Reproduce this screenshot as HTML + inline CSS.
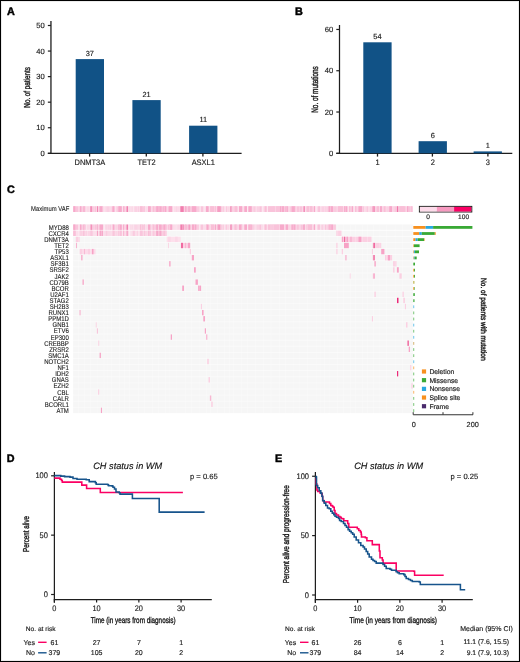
<!DOCTYPE html>
<html><head><meta charset="utf-8"><style>
html,body{margin:0;padding:0;background:#fff;}
#f{position:relative;width:520px;height:662px;overflow:hidden;background:#fff;}
#f svg{position:absolute;left:0;top:0;will-change:transform;filter:blur(0.3px);}
#bd{position:absolute;left:0;top:0;width:518px;height:660px;border:1px solid #000;box-sizing:content-box;box-shadow:inset 0 0 0 1px #ececec;}
text{font-family:"Liberation Sans", sans-serif;text-rendering:geometricPrecision;}
</style></head><body><div id="f">
<svg width="520" height="662" viewBox="0 0 520 662" font-family='"Liberation Sans", sans-serif'>
<text x="6.9" y="14.83" font-size="10.8" font-weight="bold" fill="#000" stroke="#000" stroke-width="0.45">A</text>
<text x="295" y="14.63" font-size="10.8" font-weight="bold" fill="#000" stroke="#000" stroke-width="0.45">B</text>
<text x="6.9" y="193.23" font-size="10.8" font-weight="bold" fill="#000" stroke="#000" stroke-width="0.45">C</text>
<text x="6.8" y="462.43" font-size="10.8" font-weight="bold" fill="#000" stroke="#000" stroke-width="0.45">D</text>
<text x="274.9" y="462.43" font-size="10.8" font-weight="bold" fill="#000" stroke="#000" stroke-width="0.45">E</text>
<line x1="50.95" y1="21.00" x2="50.95" y2="153.30" stroke="#1e1e1e" stroke-width="1.3"/>
<line x1="47.85" y1="153.30" x2="241.60" y2="153.30" stroke="#1e1e1e" stroke-width="1.25"/>
<line x1="47.85" y1="153.30" x2="50.95" y2="153.30" stroke="#1e1e1e" stroke-width="1.2"/>
<text x="44.80" y="155.91" font-size="7.60" text-anchor="end" fill="#1a1a1a" stroke="#1a1a1a" stroke-width="0.15" >0</text>
<line x1="47.85" y1="127.74" x2="50.95" y2="127.74" stroke="#1e1e1e" stroke-width="1.2"/>
<text x="44.80" y="130.35" font-size="7.60" text-anchor="end" fill="#1a1a1a" stroke="#1a1a1a" stroke-width="0.15" >10</text>
<line x1="47.85" y1="102.18" x2="50.95" y2="102.18" stroke="#1e1e1e" stroke-width="1.2"/>
<text x="44.80" y="104.79" font-size="7.60" text-anchor="end" fill="#1a1a1a" stroke="#1a1a1a" stroke-width="0.15" >20</text>
<line x1="47.85" y1="76.62" x2="50.95" y2="76.62" stroke="#1e1e1e" stroke-width="1.2"/>
<text x="44.80" y="79.23" font-size="7.60" text-anchor="end" fill="#1a1a1a" stroke="#1a1a1a" stroke-width="0.15" >30</text>
<line x1="47.85" y1="51.06" x2="50.95" y2="51.06" stroke="#1e1e1e" stroke-width="1.2"/>
<text x="44.80" y="53.67" font-size="7.60" text-anchor="end" fill="#1a1a1a" stroke="#1a1a1a" stroke-width="0.15" >40</text>
<line x1="47.85" y1="25.50" x2="50.95" y2="25.50" stroke="#1e1e1e" stroke-width="1.2"/>
<text x="44.80" y="28.11" font-size="7.60" text-anchor="end" fill="#1a1a1a" stroke="#1a1a1a" stroke-width="0.15" >50</text>
<g transform="translate(26.80,87.40) rotate(-90)"><text x="0" y="3.01" font-size="8.6" text-anchor="middle" fill="#1a1a1a" stroke="#1a1a1a" stroke-width="0.4" textLength="40.5" lengthAdjust="spacingAndGlyphs">No. of patients</text></g>
<rect x="75.70" y="59.10" width="28.30" height="94.20" fill="#115286" />
<line x1="89.60" y1="153.30" x2="89.60" y2="156.60" stroke="#1e1e1e" stroke-width="1.3"/>
<g transform="translate(89.85,165.22) scale(0.9259,1)"><text x="0" y="0" font-size="8.05" text-anchor="middle" fill="#1a1a1a" stroke="#1a1a1a" stroke-width="0.15" >DNMT3A</text></g>
<text x="89.85" y="55.79" font-size="7.40" text-anchor="middle" fill="#1a1a1a" stroke="#1a1a1a" stroke-width="0.15" >37</text>
<rect x="132.40" y="100.10" width="28.30" height="53.20" fill="#115286" />
<line x1="146.30" y1="153.30" x2="146.30" y2="156.60" stroke="#1e1e1e" stroke-width="1.3"/>
<g transform="translate(146.55,165.22) scale(0.9259,1)"><text x="0" y="0" font-size="8.05" text-anchor="middle" fill="#1a1a1a" stroke="#1a1a1a" stroke-width="0.15" >TET2</text></g>
<text x="146.55" y="96.79" font-size="7.40" text-anchor="middle" fill="#1a1a1a" stroke="#1a1a1a" stroke-width="0.15" >21</text>
<rect x="189.10" y="125.70" width="28.30" height="27.60" fill="#115286" />
<line x1="202.90" y1="153.30" x2="202.90" y2="156.60" stroke="#1e1e1e" stroke-width="1.3"/>
<g transform="translate(203.25,165.22) scale(0.9259,1)"><text x="0" y="0" font-size="8.05" text-anchor="middle" fill="#1a1a1a" stroke="#1a1a1a" stroke-width="0.15" >ASXL1</text></g>
<text x="203.25" y="122.39" font-size="7.40" text-anchor="middle" fill="#1a1a1a" stroke="#1a1a1a" stroke-width="0.15" >11</text>
<line x1="339.50" y1="25.00" x2="339.50" y2="153.30" stroke="#1e1e1e" stroke-width="1.25"/>
<line x1="336.30" y1="153.30" x2="512.30" y2="153.30" stroke="#1e1e1e" stroke-width="1.25"/>
<line x1="336.30" y1="153.30" x2="339.50" y2="153.30" stroke="#1e1e1e" stroke-width="1.2"/>
<text x="333.20" y="155.91" font-size="7.60" text-anchor="end" fill="#1a1a1a" stroke="#1a1a1a" stroke-width="0.15" >0</text>
<line x1="336.30" y1="112.02" x2="339.50" y2="112.02" stroke="#1e1e1e" stroke-width="1.2"/>
<text x="333.20" y="114.63" font-size="7.60" text-anchor="end" fill="#1a1a1a" stroke="#1a1a1a" stroke-width="0.15" >20</text>
<line x1="336.30" y1="70.74" x2="339.50" y2="70.74" stroke="#1e1e1e" stroke-width="1.2"/>
<text x="333.20" y="73.35" font-size="7.60" text-anchor="end" fill="#1a1a1a" stroke="#1a1a1a" stroke-width="0.15" >40</text>
<line x1="336.30" y1="29.46" x2="339.50" y2="29.46" stroke="#1e1e1e" stroke-width="1.2"/>
<text x="333.20" y="32.07" font-size="7.60" text-anchor="end" fill="#1a1a1a" stroke="#1a1a1a" stroke-width="0.15" >60</text>
<g transform="translate(315.00,89.50) rotate(-90)"><text x="0" y="3.29" font-size="9.4" text-anchor="middle" fill="#1a1a1a" stroke="#1a1a1a" stroke-width="0.4" textLength="46.6" lengthAdjust="spacingAndGlyphs">No. of mutations</text></g>
<rect x="363.30" y="42.30" width="28.30" height="111.00" fill="#115286" />
<line x1="377.50" y1="153.30" x2="377.50" y2="156.60" stroke="#1e1e1e" stroke-width="1.3"/>
<g transform="translate(377.45,165.42) scale(0.9259,1)"><text x="0" y="0" font-size="8.05" text-anchor="middle" fill="#1a1a1a" stroke="#1a1a1a" stroke-width="0.15" >1</text></g>
<text x="377.45" y="39.09" font-size="7.40" text-anchor="middle" fill="#1a1a1a" stroke="#1a1a1a" stroke-width="0.15" >54</text>
<rect x="418.60" y="141.20" width="28.30" height="12.10" fill="#115286" />
<line x1="432.40" y1="153.30" x2="432.40" y2="156.60" stroke="#1e1e1e" stroke-width="1.3"/>
<g transform="translate(432.75,165.42) scale(0.9259,1)"><text x="0" y="0" font-size="8.05" text-anchor="middle" fill="#1a1a1a" stroke="#1a1a1a" stroke-width="0.15" >2</text></g>
<text x="432.75" y="137.99" font-size="7.40" text-anchor="middle" fill="#1a1a1a" stroke="#1a1a1a" stroke-width="0.15" >6</text>
<rect x="473.60" y="151.40" width="28.30" height="1.90" fill="#115286" />
<line x1="487.90" y1="153.30" x2="487.90" y2="156.60" stroke="#1e1e1e" stroke-width="1.3"/>
<g transform="translate(487.75,165.42) scale(0.9259,1)"><text x="0" y="0" font-size="8.05" text-anchor="middle" fill="#1a1a1a" stroke="#1a1a1a" stroke-width="0.15" >3</text></g>
<text x="487.75" y="148.19" font-size="7.40" text-anchor="middle" fill="#1a1a1a" stroke="#1a1a1a" stroke-width="0.15" >1</text>
<g transform="translate(69.30,211.27) scale(0.8696,1)"><text x="0" y="0" font-size="6.79" text-anchor="end" fill="#1a1a1a" stroke="#1a1a1a" stroke-width="0.1" >Maximum VAF</text></g>
<rect x="73.20" y="206.20" width="2.05" height="5.80" fill="#f9c6dc" />
<rect x="75.20" y="206.20" width="3.05" height="5.80" fill="#f9c4db" />
<rect x="78.20" y="206.20" width="2.05" height="5.80" fill="#fad1e3" />
<rect x="80.20" y="206.20" width="3.05" height="5.80" fill="#facee1" />
<rect x="83.20" y="206.20" width="1.25" height="5.80" fill="#f9c8dd" />
<rect x="84.40" y="206.20" width="2.05" height="5.80" fill="#facce0" />
<rect x="86.40" y="206.20" width="3.05" height="5.80" fill="#fbd9e7" />
<rect x="89.40" y="206.20" width="2.05" height="5.80" fill="#fbd5e5" />
<rect x="91.40" y="206.20" width="0.85" height="5.80" fill="#facfe1" />
<rect x="92.20" y="206.20" width="2.55" height="5.80" fill="#facce0" />
<rect x="94.70" y="206.20" width="2.05" height="5.80" fill="#f9c3da" />
<rect x="96.70" y="206.20" width="2.05" height="5.80" fill="#faccdf" />
<rect x="98.70" y="206.20" width="2.05" height="5.80" fill="#facce0" />
<rect x="100.70" y="206.20" width="2.05" height="5.80" fill="#fcddea" />
<rect x="102.70" y="206.20" width="2.05" height="5.80" fill="#fbdce9" />
<rect x="104.70" y="206.20" width="0.85" height="5.80" fill="#fbd8e7" />
<rect x="105.50" y="206.20" width="1.25" height="5.80" fill="#facde0" />
<rect x="106.70" y="206.20" width="3.05" height="5.80" fill="#fad1e3" />
<rect x="109.70" y="206.20" width="2.05" height="5.80" fill="#facde1" />
<rect x="111.70" y="206.20" width="1.25" height="5.80" fill="#facfe2" />
<rect x="112.90" y="206.20" width="2.55" height="5.80" fill="#fbd6e6" />
<rect x="115.40" y="206.20" width="0.85" height="5.80" fill="#faccdf" />
<rect x="116.20" y="206.20" width="2.05" height="5.80" fill="#faccdf" />
<rect x="118.20" y="206.20" width="2.05" height="5.80" fill="#f9c2da" />
<rect x="120.20" y="206.20" width="3.05" height="5.80" fill="#fbdbe9" />
<rect x="123.20" y="206.20" width="1.55" height="5.80" fill="#fbd5e5" />
<rect x="124.70" y="206.20" width="1.25" height="5.80" fill="#fad0e2" />
<rect x="125.90" y="206.20" width="0.85" height="5.80" fill="#fbdce9" />
<rect x="126.70" y="206.20" width="3.05" height="5.80" fill="#fbdbe9" />
<rect x="129.70" y="206.20" width="0.85" height="5.80" fill="#f9c6dc" />
<rect x="130.50" y="206.20" width="2.05" height="5.80" fill="#fbdce9" />
<rect x="132.50" y="206.20" width="0.85" height="5.80" fill="#f9c6dc" />
<rect x="133.30" y="206.20" width="0.85" height="5.80" fill="#fbd8e7" />
<rect x="134.10" y="206.20" width="0.85" height="5.80" fill="#fad1e3" />
<rect x="134.90" y="206.20" width="2.55" height="5.80" fill="#fad3e4" />
<rect x="137.40" y="206.20" width="0.85" height="5.80" fill="#facee1" />
<rect x="138.20" y="206.20" width="1.25" height="5.80" fill="#f9c8dd" />
<rect x="139.40" y="206.20" width="1.55" height="5.80" fill="#fbd4e5" />
<rect x="140.90" y="206.20" width="1.55" height="5.80" fill="#fbd5e5" />
<rect x="142.40" y="206.20" width="2.05" height="5.80" fill="#fac9de" />
<rect x="144.40" y="206.20" width="0.85" height="5.80" fill="#fbdae8" />
<rect x="145.20" y="206.20" width="2.55" height="5.80" fill="#fbdbe9" />
<rect x="147.70" y="206.20" width="0.85" height="5.80" fill="#fad1e3" />
<rect x="148.50" y="206.20" width="2.05" height="5.80" fill="#fbd9e7" />
<rect x="150.50" y="206.20" width="2.05" height="5.80" fill="#fbd8e7" />
<rect x="152.50" y="206.20" width="2.05" height="5.80" fill="#fbd8e7" />
<rect x="154.50" y="206.20" width="2.55" height="5.80" fill="#fac9de" />
<rect x="157.00" y="206.20" width="2.05" height="5.80" fill="#facce0" />
<rect x="159.00" y="206.20" width="0.85" height="5.80" fill="#fad3e4" />
<rect x="159.80" y="206.20" width="1.25" height="5.80" fill="#fcdeea" />
<rect x="161.00" y="206.20" width="3.05" height="5.80" fill="#f9c3da" />
<rect x="164.00" y="206.20" width="3.05" height="5.80" fill="#facde1" />
<rect x="167.00" y="206.20" width="0.85" height="5.80" fill="#fbd8e7" />
<rect x="167.80" y="206.20" width="2.05" height="5.80" fill="#f9c2da" />
<rect x="169.80" y="206.20" width="2.05" height="5.80" fill="#facce0" />
<rect x="171.80" y="206.20" width="0.85" height="5.80" fill="#fbdcea" />
<rect x="172.60" y="206.20" width="1.25" height="5.80" fill="#fbd8e7" />
<rect x="173.80" y="206.20" width="1.55" height="5.80" fill="#fcddea" />
<rect x="175.30" y="206.20" width="2.05" height="5.80" fill="#fbd5e5" />
<rect x="177.30" y="206.20" width="1.55" height="5.80" fill="#fbd3e4" />
<rect x="178.80" y="206.20" width="0.85" height="5.80" fill="#fbdbe9" />
<rect x="179.60" y="206.20" width="2.05" height="5.80" fill="#facce0" />
<rect x="181.60" y="206.20" width="0.85" height="5.80" fill="#facde0" />
<rect x="182.40" y="206.20" width="1.55" height="5.80" fill="#facde0" />
<rect x="183.90" y="206.20" width="1.25" height="5.80" fill="#f9c3da" />
<rect x="185.10" y="206.20" width="2.05" height="5.80" fill="#f9c7dd" />
<rect x="187.10" y="206.20" width="1.25" height="5.80" fill="#f9c6dc" />
<rect x="188.30" y="206.20" width="1.25" height="5.80" fill="#facce0" />
<rect x="189.50" y="206.20" width="1.55" height="5.80" fill="#f9c5db" />
<rect x="191.00" y="206.20" width="3.05" height="5.80" fill="#facde0" />
<rect x="194.00" y="206.20" width="2.55" height="5.80" fill="#fbd8e7" />
<rect x="196.50" y="206.20" width="2.55" height="5.80" fill="#facce0" />
<rect x="199.00" y="206.20" width="2.05" height="5.80" fill="#fbd8e7" />
<rect x="201.00" y="206.20" width="2.05" height="5.80" fill="#f9c6dc" />
<rect x="203.00" y="206.20" width="2.05" height="5.80" fill="#fbdbe9" />
<rect x="205.00" y="206.20" width="0.85" height="5.80" fill="#fbdbe9" />
<rect x="205.80" y="206.20" width="0.85" height="5.80" fill="#fad0e2" />
<rect x="206.60" y="206.20" width="1.55" height="5.80" fill="#fbd7e6" />
<rect x="208.10" y="206.20" width="2.55" height="5.80" fill="#fbd3e4" />
<rect x="210.60" y="206.20" width="2.05" height="5.80" fill="#f9c7dd" />
<rect x="212.60" y="206.20" width="2.05" height="5.80" fill="#fad0e2" />
<rect x="214.60" y="206.20" width="2.05" height="5.80" fill="#fbd9e7" />
<rect x="216.60" y="206.20" width="2.55" height="5.80" fill="#f9c3da" />
<rect x="219.10" y="206.20" width="1.25" height="5.80" fill="#fbd7e7" />
<rect x="220.30" y="206.20" width="2.05" height="5.80" fill="#faccdf" />
<rect x="222.30" y="206.20" width="2.05" height="5.80" fill="#facde0" />
<rect x="224.30" y="206.20" width="1.55" height="5.80" fill="#fbd8e7" />
<rect x="225.80" y="206.20" width="1.25" height="5.80" fill="#fac9de" />
<rect x="227.00" y="206.20" width="0.85" height="5.80" fill="#fbd6e6" />
<rect x="227.80" y="206.20" width="2.05" height="5.80" fill="#fbd7e6" />
<rect x="229.80" y="206.20" width="0.85" height="5.80" fill="#fbd9e7" />
<rect x="230.60" y="206.20" width="1.55" height="5.80" fill="#facfe2" />
<rect x="232.10" y="206.20" width="1.25" height="5.80" fill="#fbdbe9" />
<rect x="233.30" y="206.20" width="1.25" height="5.80" fill="#f9c5dc" />
<rect x="234.50" y="206.20" width="1.55" height="5.80" fill="#faccdf" />
<rect x="236.00" y="206.20" width="2.55" height="5.80" fill="#facfe2" />
<rect x="238.50" y="206.20" width="1.25" height="5.80" fill="#facde1" />
<rect x="239.70" y="206.20" width="0.85" height="5.80" fill="#fad1e2" />
<rect x="240.50" y="206.20" width="1.55" height="5.80" fill="#facadf" />
<rect x="242.00" y="206.20" width="0.85" height="5.80" fill="#fbddea" />
<rect x="242.80" y="206.20" width="2.55" height="5.80" fill="#fbdce9" />
<rect x="245.30" y="206.20" width="0.85" height="5.80" fill="#facade" />
<rect x="246.10" y="206.20" width="1.55" height="5.80" fill="#fbdae8" />
<rect x="247.60" y="206.20" width="0.85" height="5.80" fill="#fbdce9" />
<rect x="248.40" y="206.20" width="2.05" height="5.80" fill="#fbd4e4" />
<rect x="250.40" y="206.20" width="0.85" height="5.80" fill="#f9c5db" />
<rect x="251.20" y="206.20" width="2.55" height="5.80" fill="#fac9de" />
<rect x="253.70" y="206.20" width="1.25" height="5.80" fill="#f9c8dd" />
<rect x="254.90" y="206.20" width="1.55" height="5.80" fill="#fbd4e5" />
<rect x="256.40" y="206.20" width="2.55" height="5.80" fill="#fad1e3" />
<rect x="258.90" y="206.20" width="0.85" height="5.80" fill="#f9c6dc" />
<rect x="259.70" y="206.20" width="2.05" height="5.80" fill="#f9c4db" />
<rect x="261.70" y="206.20" width="0.85" height="5.80" fill="#f9c6dc" />
<rect x="262.50" y="206.20" width="2.05" height="5.80" fill="#fcddea" />
<rect x="264.50" y="206.20" width="2.55" height="5.80" fill="#fbd3e4" />
<rect x="267.00" y="206.20" width="2.05" height="5.80" fill="#fcddea" />
<rect x="269.00" y="206.20" width="0.85" height="5.80" fill="#fbdbe9" />
<rect x="269.80" y="206.20" width="2.55" height="5.80" fill="#fbdae8" />
<rect x="272.30" y="206.20" width="1.55" height="5.80" fill="#f9c6dc" />
<rect x="273.80" y="206.20" width="2.55" height="5.80" fill="#fbd5e5" />
<rect x="276.30" y="206.20" width="2.55" height="5.80" fill="#facbdf" />
<rect x="278.80" y="206.20" width="2.05" height="5.80" fill="#fad2e3" />
<rect x="280.80" y="206.20" width="3.05" height="5.80" fill="#facfe1" />
<rect x="283.80" y="206.20" width="2.05" height="5.80" fill="#fac9de" />
<rect x="285.80" y="206.20" width="0.85" height="5.80" fill="#fbd5e5" />
<rect x="286.60" y="206.20" width="0.85" height="5.80" fill="#fad0e2" />
<rect x="287.40" y="206.20" width="1.25" height="5.80" fill="#f9c3da" />
<rect x="288.60" y="206.20" width="0.85" height="5.80" fill="#fad0e2" />
<rect x="289.40" y="206.20" width="2.05" height="5.80" fill="#faccdf" />
<rect x="291.40" y="206.20" width="2.05" height="5.80" fill="#fbd7e6" />
<rect x="293.40" y="206.20" width="0.85" height="5.80" fill="#fbd4e4" />
<rect x="294.20" y="206.20" width="1.25" height="5.80" fill="#facbdf" />
<rect x="295.40" y="206.20" width="1.25" height="5.80" fill="#facfe2" />
<rect x="296.60" y="206.20" width="3.05" height="5.80" fill="#f9c5db" />
<rect x="299.60" y="206.20" width="2.55" height="5.80" fill="#f9c4db" />
<rect x="302.10" y="206.20" width="2.05" height="5.80" fill="#f9c5dc" />
<rect x="304.10" y="206.20" width="1.55" height="5.80" fill="#fad3e4" />
<rect x="305.60" y="206.20" width="1.55" height="5.80" fill="#fbd8e7" />
<rect x="307.10" y="206.20" width="2.05" height="5.80" fill="#f9c8dd" />
<rect x="309.10" y="206.20" width="3.05" height="5.80" fill="#f9c5db" />
<rect x="312.10" y="206.20" width="1.25" height="5.80" fill="#fbd3e4" />
<rect x="313.30" y="206.20" width="2.05" height="5.80" fill="#f9c4db" />
<rect x="315.30" y="206.20" width="1.25" height="5.80" fill="#fbdae8" />
<rect x="316.50" y="206.20" width="2.05" height="5.80" fill="#fbd4e5" />
<rect x="318.50" y="206.20" width="3.05" height="5.80" fill="#fbdcea" />
<rect x="321.50" y="206.20" width="0.85" height="5.80" fill="#f9c4db" />
<rect x="322.30" y="206.20" width="1.55" height="5.80" fill="#f9c7dd" />
<rect x="323.80" y="206.20" width="0.85" height="5.80" fill="#fad1e3" />
<rect x="324.60" y="206.20" width="1.55" height="5.80" fill="#f9c4db" />
<rect x="326.10" y="206.20" width="3.05" height="5.80" fill="#fad2e3" />
<rect x="329.10" y="206.20" width="2.55" height="5.80" fill="#facfe2" />
<rect x="331.60" y="206.20" width="2.55" height="5.80" fill="#fbd5e5" />
<rect x="334.10" y="206.20" width="3.05" height="5.80" fill="#f9c7dc" />
<rect x="337.10" y="206.20" width="2.05" height="5.80" fill="#fad1e3" />
<rect x="339.10" y="206.20" width="0.85" height="5.80" fill="#f9c7dd" />
<rect x="339.90" y="206.20" width="1.55" height="5.80" fill="#f9c6dc" />
<rect x="341.40" y="206.20" width="0.85" height="5.80" fill="#facbdf" />
<rect x="342.20" y="206.20" width="1.55" height="5.80" fill="#facee1" />
<rect x="343.70" y="206.20" width="1.55" height="5.80" fill="#facce0" />
<rect x="345.20" y="206.20" width="2.05" height="5.80" fill="#fbddea" />
<rect x="347.20" y="206.20" width="1.25" height="5.80" fill="#fad3e4" />
<rect x="348.40" y="206.20" width="1.25" height="5.80" fill="#fbddea" />
<rect x="349.60" y="206.20" width="3.05" height="5.80" fill="#fbd6e6" />
<rect x="352.60" y="206.20" width="3.05" height="5.80" fill="#fbdae8" />
<rect x="355.60" y="206.20" width="0.85" height="5.80" fill="#f9c3da" />
<rect x="356.40" y="206.20" width="0.85" height="5.80" fill="#fad1e3" />
<rect x="357.20" y="206.20" width="2.55" height="5.80" fill="#facfe1" />
<rect x="359.70" y="206.20" width="2.55" height="5.80" fill="#f9c8dd" />
<rect x="362.20" y="206.20" width="0.85" height="5.80" fill="#facbdf" />
<rect x="363.00" y="206.20" width="1.25" height="5.80" fill="#f9c7dd" />
<rect x="364.20" y="206.20" width="1.55" height="5.80" fill="#fbd9e7" />
<rect x="365.70" y="206.20" width="0.85" height="5.80" fill="#fac9de" />
<rect x="366.50" y="206.20" width="2.05" height="5.80" fill="#facade" />
<rect x="368.50" y="206.20" width="1.25" height="5.80" fill="#fbd7e7" />
<rect x="369.70" y="206.20" width="3.05" height="5.80" fill="#fbd4e5" />
<rect x="372.70" y="206.20" width="2.55" height="5.80" fill="#f9c4db" />
<rect x="375.20" y="206.20" width="2.05" height="5.80" fill="#facde0" />
<rect x="377.20" y="206.20" width="3.05" height="5.80" fill="#fbd9e8" />
<rect x="380.20" y="206.20" width="3.05" height="5.80" fill="#f9c8dd" />
<rect x="383.20" y="206.20" width="1.25" height="5.80" fill="#fbdbe9" />
<rect x="384.40" y="206.20" width="2.55" height="5.80" fill="#fbd3e4" />
<rect x="386.90" y="206.20" width="2.05" height="5.80" fill="#fad1e3" />
<rect x="388.90" y="206.20" width="2.55" height="5.80" fill="#f9c5dc" />
<rect x="391.40" y="206.20" width="0.85" height="5.80" fill="#fbd3e4" />
<rect x="392.20" y="206.20" width="2.05" height="5.80" fill="#facce0" />
<rect x="394.20" y="206.20" width="2.05" height="5.80" fill="#f9c8dd" />
<rect x="396.20" y="206.20" width="1.55" height="5.80" fill="#fad1e3" />
<rect x="397.70" y="206.20" width="2.55" height="5.80" fill="#f9c3da" />
<rect x="400.20" y="206.20" width="0.85" height="5.80" fill="#facade" />
<rect x="401.00" y="206.20" width="3.05" height="5.80" fill="#f9c8dd" />
<rect x="404.00" y="206.20" width="2.55" height="5.80" fill="#fbdae8" />
<rect x="406.50" y="206.20" width="1.25" height="5.80" fill="#f9c5db" />
<rect x="407.70" y="206.20" width="0.85" height="5.80" fill="#f9c3da" />
<rect x="408.50" y="206.20" width="2.05" height="5.80" fill="#f9c3da" />
<rect x="410.50" y="206.20" width="1.55" height="5.80" fill="#fbd6e6" />
<rect x="412.00" y="206.20" width="0.85" height="5.80" fill="#f9c6dc" />
<rect x="73.30" y="206.20" width="2.10" height="5.80" fill="#f7aacb" />
<rect x="80.00" y="206.20" width="1.40" height="5.80" fill="#f7aacb" />
<rect x="83.40" y="206.20" width="1.40" height="5.80" fill="#f7aacb" />
<rect x="90.20" y="206.20" width="2.00" height="5.80" fill="#f392bb" />
<rect x="96.90" y="206.20" width="0.90" height="5.80" fill="#f078aa" />
<rect x="99.60" y="206.20" width="3.40" height="5.80" fill="#f7aacb" />
<rect x="112.40" y="206.20" width="2.00" height="5.80" fill="#f7aacb" />
<rect x="118.40" y="206.20" width="3.40" height="5.80" fill="#f7aacb" />
<rect x="123.10" y="206.20" width="1.40" height="5.80" fill="#f7aacb" />
<rect x="126.50" y="206.20" width="1.40" height="5.80" fill="#f078aa" />
<rect x="140.00" y="206.20" width="2.70" height="5.80" fill="#f9bfd7" />
<rect x="144.00" y="206.20" width="0.80" height="5.80" fill="#f7aacb" />
<rect x="148.00" y="206.20" width="2.80" height="5.80" fill="#f7aacb" />
<rect x="152.00" y="206.20" width="2.50" height="5.80" fill="#f9bfd7" />
<rect x="156.20" y="206.20" width="5.30" height="5.80" fill="#f7aacb" />
<rect x="163.50" y="206.20" width="2.70" height="5.80" fill="#f7aacb" />
<rect x="169.00" y="206.20" width="3.30" height="5.80" fill="#f7aacb" />
<rect x="180.40" y="206.20" width="3.30" height="5.80" fill="#f17eae" />
<rect x="185.00" y="206.20" width="1.40" height="5.80" fill="#f7aacb" />
<rect x="188.50" y="206.20" width="1.30" height="5.80" fill="#f392bb" />
<rect x="191.80" y="206.20" width="4.70" height="5.80" fill="#f7aacb" />
<rect x="206.00" y="206.20" width="2.60" height="5.80" fill="#f7aacb" />
<rect x="210.00" y="206.20" width="4.00" height="5.80" fill="#f9bfd7" />
<rect x="214.70" y="206.20" width="1.30" height="5.80" fill="#f7aacb" />
<rect x="217.40" y="206.20" width="3.40" height="5.80" fill="#f59ec3" />
<rect x="230.20" y="206.20" width="2.00" height="5.80" fill="#f392bb" />
<rect x="234.50" y="206.20" width="2.50" height="5.80" fill="#f9bfd7" />
<rect x="239.00" y="206.20" width="3.30" height="5.80" fill="#f7aacb" />
<rect x="244.30" y="206.20" width="2.70" height="5.80" fill="#f7aacb" />
<rect x="248.40" y="206.20" width="3.30" height="5.80" fill="#f7aacb" />
<rect x="264.50" y="206.20" width="2.00" height="5.80" fill="#f9bfd7" />
<rect x="268.00" y="206.20" width="12.00" height="5.80" fill="#f9c3da" />
<rect x="280.00" y="206.20" width="4.00" height="5.80" fill="#f7aacb" />
<rect x="285.40" y="206.20" width="2.60" height="5.80" fill="#f7aacb" />
<rect x="291.40" y="206.20" width="4.10" height="5.80" fill="#f7aacb" />
<rect x="303.60" y="206.20" width="1.30" height="5.80" fill="#f28ab6" />
<rect x="306.50" y="206.20" width="6.00" height="5.80" fill="#f9bfd7" />
<rect x="314.00" y="206.20" width="1.00" height="5.80" fill="#f7aacb" />
<rect x="318.50" y="206.20" width="1.00" height="5.80" fill="#f7aacb" />
<rect x="328.50" y="206.20" width="4.70" height="5.80" fill="#f7aacb" />
<rect x="338.00" y="206.20" width="5.00" height="5.80" fill="#f9bfd7" />
<rect x="344.00" y="206.20" width="3.30" height="5.80" fill="#f7aacb" />
<rect x="349.00" y="206.20" width="1.50" height="5.80" fill="#f9bfd7" />
<rect x="351.70" y="206.20" width="1.30" height="5.80" fill="#f7aacb" />
<rect x="355.00" y="206.20" width="1.50" height="5.80" fill="#f9bfd7" />
<rect x="358.50" y="206.20" width="4.00" height="5.80" fill="#f7aacb" />
<rect x="372.60" y="206.20" width="2.00" height="5.80" fill="#f078aa" />
<rect x="377.00" y="206.20" width="2.00" height="5.80" fill="#f9bfd7" />
<rect x="380.00" y="206.20" width="2.00" height="5.80" fill="#f7aacb" />
<rect x="383.50" y="206.20" width="2.00" height="5.80" fill="#f9bfd7" />
<rect x="389.40" y="206.20" width="2.70" height="5.80" fill="#f7aacb" />
<rect x="396.80" y="206.20" width="1.40" height="5.80" fill="#f078aa" />
<rect x="399.50" y="206.20" width="6.00" height="5.80" fill="#f9bfd7" />
<rect x="406.90" y="206.20" width="2.00" height="5.80" fill="#f7aacb" />
<rect x="410.50" y="206.20" width="1.50" height="5.80" fill="#f9bfd7" />
<rect x="84.85" y="206.20" width="0.45" height="5.80" fill="#ffffff" opacity="0.6"/>
<rect x="96.24" y="206.20" width="0.45" height="5.80" fill="#ffffff" opacity="0.6"/>
<rect x="102.40" y="206.20" width="0.45" height="5.80" fill="#ffffff" opacity="0.6"/>
<rect x="110.18" y="206.20" width="0.45" height="5.80" fill="#ffffff" opacity="0.6"/>
<rect x="115.20" y="206.20" width="0.45" height="5.80" fill="#ffffff" opacity="0.6"/>
<rect x="122.67" y="206.20" width="0.45" height="5.80" fill="#ffffff" opacity="0.6"/>
<rect x="133.19" y="206.20" width="0.45" height="5.80" fill="#ffffff" opacity="0.6"/>
<rect x="144.40" y="206.20" width="0.45" height="5.80" fill="#ffffff" opacity="0.6"/>
<rect x="152.21" y="206.20" width="0.45" height="5.80" fill="#ffffff" opacity="0.6"/>
<rect x="158.75" y="206.20" width="0.45" height="5.80" fill="#ffffff" opacity="0.6"/>
<rect x="164.28" y="206.20" width="0.45" height="5.80" fill="#ffffff" opacity="0.6"/>
<rect x="173.22" y="206.20" width="0.45" height="5.80" fill="#ffffff" opacity="0.6"/>
<rect x="184.62" y="206.20" width="0.45" height="5.80" fill="#ffffff" opacity="0.6"/>
<rect x="189.66" y="206.20" width="0.45" height="5.80" fill="#ffffff" opacity="0.6"/>
<rect x="199.89" y="206.20" width="0.45" height="5.80" fill="#ffffff" opacity="0.6"/>
<rect x="204.08" y="206.20" width="0.45" height="5.80" fill="#ffffff" opacity="0.6"/>
<rect x="209.63" y="206.20" width="0.45" height="5.80" fill="#ffffff" opacity="0.6"/>
<rect x="215.45" y="206.20" width="0.45" height="5.80" fill="#ffffff" opacity="0.6"/>
<rect x="224.94" y="206.20" width="0.45" height="5.80" fill="#ffffff" opacity="0.6"/>
<rect x="231.52" y="206.20" width="0.45" height="5.80" fill="#ffffff" opacity="0.6"/>
<rect x="238.36" y="206.20" width="0.45" height="5.80" fill="#ffffff" opacity="0.6"/>
<rect x="247.32" y="206.20" width="0.45" height="5.80" fill="#ffffff" opacity="0.6"/>
<rect x="252.16" y="206.20" width="0.45" height="5.80" fill="#ffffff" opacity="0.6"/>
<rect x="262.01" y="206.20" width="0.45" height="5.80" fill="#ffffff" opacity="0.6"/>
<rect x="266.99" y="206.20" width="0.45" height="5.80" fill="#ffffff" opacity="0.6"/>
<rect x="275.07" y="206.20" width="0.45" height="5.80" fill="#ffffff" opacity="0.6"/>
<rect x="281.08" y="206.20" width="0.45" height="5.80" fill="#ffffff" opacity="0.6"/>
<rect x="286.66" y="206.20" width="0.45" height="5.80" fill="#ffffff" opacity="0.6"/>
<rect x="294.90" y="206.20" width="0.45" height="5.80" fill="#ffffff" opacity="0.6"/>
<rect x="302.40" y="206.20" width="0.45" height="5.80" fill="#ffffff" opacity="0.6"/>
<rect x="309.40" y="206.20" width="0.45" height="5.80" fill="#ffffff" opacity="0.6"/>
<rect x="316.71" y="206.20" width="0.45" height="5.80" fill="#ffffff" opacity="0.6"/>
<rect x="324.94" y="206.20" width="0.45" height="5.80" fill="#ffffff" opacity="0.6"/>
<rect x="330.22" y="206.20" width="0.45" height="5.80" fill="#ffffff" opacity="0.6"/>
<rect x="335.86" y="206.20" width="0.45" height="5.80" fill="#ffffff" opacity="0.6"/>
<rect x="344.91" y="206.20" width="0.45" height="5.80" fill="#ffffff" opacity="0.6"/>
<rect x="354.01" y="206.20" width="0.45" height="5.80" fill="#ffffff" opacity="0.6"/>
<rect x="362.25" y="206.20" width="0.45" height="5.80" fill="#ffffff" opacity="0.6"/>
<rect x="373.06" y="206.20" width="0.45" height="5.80" fill="#ffffff" opacity="0.6"/>
<rect x="381.95" y="206.20" width="0.45" height="5.80" fill="#ffffff" opacity="0.6"/>
<rect x="392.81" y="206.20" width="0.45" height="5.80" fill="#ffffff" opacity="0.6"/>
<rect x="398.67" y="206.20" width="0.45" height="5.80" fill="#ffffff" opacity="0.6"/>
<rect x="408.60" y="206.20" width="0.45" height="5.80" fill="#ffffff" opacity="0.6"/>
<rect x="73.20" y="236.21" width="339.60" height="177.07" fill="#fbfbfb" />
<rect x="73.20" y="224.50" width="339.60" height="5.35" fill="#f6f6f6" />
<g transform="translate(68.80,229.69) scale(0.8696,1)"><text x="0" y="0" font-size="6.90" text-anchor="end" fill="#1a1a1a" stroke="#1a1a1a" stroke-width="0.12" >MYD88</text></g>
<rect x="73.20" y="230.61" width="339.60" height="5.35" fill="#f6f6f6" />
<g transform="translate(68.80,235.80) scale(0.8696,1)"><text x="0" y="0" font-size="6.90" text-anchor="end" fill="#1a1a1a" stroke="#1a1a1a" stroke-width="0.12" >CXCR4</text></g>
<rect x="73.20" y="236.71" width="339.60" height="5.35" fill="#f6f6f6" />
<g transform="translate(68.80,241.90) scale(0.8696,1)"><text x="0" y="0" font-size="6.90" text-anchor="end" fill="#1a1a1a" stroke="#1a1a1a" stroke-width="0.12" >DNMT3A</text></g>
<rect x="73.20" y="242.82" width="339.60" height="5.35" fill="#f6f6f6" />
<g transform="translate(68.80,248.01) scale(0.8696,1)"><text x="0" y="0" font-size="6.90" text-anchor="end" fill="#1a1a1a" stroke="#1a1a1a" stroke-width="0.12" >TET2</text></g>
<rect x="73.20" y="248.92" width="339.60" height="5.35" fill="#f6f6f6" />
<g transform="translate(68.80,254.11) scale(0.8696,1)"><text x="0" y="0" font-size="6.90" text-anchor="end" fill="#1a1a1a" stroke="#1a1a1a" stroke-width="0.12" >TP53</text></g>
<rect x="73.20" y="255.03" width="339.60" height="5.35" fill="#f6f6f6" />
<g transform="translate(68.80,260.22) scale(0.8696,1)"><text x="0" y="0" font-size="6.90" text-anchor="end" fill="#1a1a1a" stroke="#1a1a1a" stroke-width="0.12" >ASXL1</text></g>
<rect x="73.20" y="261.14" width="339.60" height="5.35" fill="#f6f6f6" />
<g transform="translate(68.80,266.33) scale(0.8696,1)"><text x="0" y="0" font-size="6.90" text-anchor="end" fill="#1a1a1a" stroke="#1a1a1a" stroke-width="0.12" >SF3B1</text></g>
<rect x="73.20" y="267.24" width="339.60" height="5.35" fill="#f6f6f6" />
<g transform="translate(68.80,272.43) scale(0.8696,1)"><text x="0" y="0" font-size="6.90" text-anchor="end" fill="#1a1a1a" stroke="#1a1a1a" stroke-width="0.12" >SRSF2</text></g>
<rect x="73.20" y="273.35" width="339.60" height="5.35" fill="#f6f6f6" />
<g transform="translate(68.80,278.54) scale(0.8696,1)"><text x="0" y="0" font-size="6.90" text-anchor="end" fill="#1a1a1a" stroke="#1a1a1a" stroke-width="0.12" >JAK2</text></g>
<rect x="73.20" y="279.45" width="339.60" height="5.35" fill="#f6f6f6" />
<g transform="translate(68.80,284.64) scale(0.8696,1)"><text x="0" y="0" font-size="6.90" text-anchor="end" fill="#1a1a1a" stroke="#1a1a1a" stroke-width="0.12" >CD79B</text></g>
<rect x="73.20" y="285.56" width="339.60" height="5.35" fill="#f6f6f6" />
<g transform="translate(68.80,290.75) scale(0.8696,1)"><text x="0" y="0" font-size="6.90" text-anchor="end" fill="#1a1a1a" stroke="#1a1a1a" stroke-width="0.12" >BCOR</text></g>
<rect x="73.20" y="291.67" width="339.60" height="5.35" fill="#f6f6f6" />
<g transform="translate(68.80,296.86) scale(0.8696,1)"><text x="0" y="0" font-size="6.90" text-anchor="end" fill="#1a1a1a" stroke="#1a1a1a" stroke-width="0.12" >U2AF1</text></g>
<rect x="73.20" y="297.77" width="339.60" height="5.35" fill="#f6f6f6" />
<g transform="translate(68.80,302.96) scale(0.8696,1)"><text x="0" y="0" font-size="6.90" text-anchor="end" fill="#1a1a1a" stroke="#1a1a1a" stroke-width="0.12" >STAG2</text></g>
<rect x="73.20" y="303.88" width="339.60" height="5.35" fill="#f6f6f6" />
<g transform="translate(68.80,309.07) scale(0.8696,1)"><text x="0" y="0" font-size="6.90" text-anchor="end" fill="#1a1a1a" stroke="#1a1a1a" stroke-width="0.12" >SH2B3</text></g>
<rect x="73.20" y="309.98" width="339.60" height="5.35" fill="#f6f6f6" />
<g transform="translate(68.80,315.17) scale(0.8696,1)"><text x="0" y="0" font-size="6.90" text-anchor="end" fill="#1a1a1a" stroke="#1a1a1a" stroke-width="0.12" >RUNX1</text></g>
<rect x="73.20" y="316.09" width="339.60" height="5.35" fill="#f6f6f6" />
<g transform="translate(68.80,321.28) scale(0.8696,1)"><text x="0" y="0" font-size="6.90" text-anchor="end" fill="#1a1a1a" stroke="#1a1a1a" stroke-width="0.12" >PPM1D</text></g>
<rect x="73.20" y="322.20" width="339.60" height="5.35" fill="#f6f6f6" />
<g transform="translate(68.80,327.39) scale(0.8696,1)"><text x="0" y="0" font-size="6.90" text-anchor="end" fill="#1a1a1a" stroke="#1a1a1a" stroke-width="0.12" >GNB1</text></g>
<rect x="73.20" y="328.30" width="339.60" height="5.35" fill="#f6f6f6" />
<g transform="translate(68.80,333.49) scale(0.8696,1)"><text x="0" y="0" font-size="6.90" text-anchor="end" fill="#1a1a1a" stroke="#1a1a1a" stroke-width="0.12" >ETV6</text></g>
<rect x="73.20" y="334.41" width="339.60" height="5.35" fill="#f6f6f6" />
<g transform="translate(68.80,339.60) scale(0.8696,1)"><text x="0" y="0" font-size="6.90" text-anchor="end" fill="#1a1a1a" stroke="#1a1a1a" stroke-width="0.12" >EP300</text></g>
<rect x="73.20" y="340.51" width="339.60" height="5.35" fill="#f6f6f6" />
<g transform="translate(68.80,345.70) scale(0.8696,1)"><text x="0" y="0" font-size="6.90" text-anchor="end" fill="#1a1a1a" stroke="#1a1a1a" stroke-width="0.12" >CREBBP</text></g>
<rect x="73.20" y="346.62" width="339.60" height="5.35" fill="#f6f6f6" />
<g transform="translate(68.80,351.81) scale(0.8696,1)"><text x="0" y="0" font-size="6.90" text-anchor="end" fill="#1a1a1a" stroke="#1a1a1a" stroke-width="0.12" >ZRSR2</text></g>
<rect x="73.20" y="352.73" width="339.60" height="5.35" fill="#f6f6f6" />
<g transform="translate(68.80,357.92) scale(0.8696,1)"><text x="0" y="0" font-size="6.90" text-anchor="end" fill="#1a1a1a" stroke="#1a1a1a" stroke-width="0.12" >SMC1A</text></g>
<rect x="73.20" y="358.83" width="339.60" height="5.35" fill="#f6f6f6" />
<g transform="translate(68.80,364.02) scale(0.8696,1)"><text x="0" y="0" font-size="6.90" text-anchor="end" fill="#1a1a1a" stroke="#1a1a1a" stroke-width="0.12" >NOTCH2</text></g>
<rect x="73.20" y="364.94" width="339.60" height="5.35" fill="#f6f6f6" />
<g transform="translate(68.80,370.13) scale(0.8696,1)"><text x="0" y="0" font-size="6.90" text-anchor="end" fill="#1a1a1a" stroke="#1a1a1a" stroke-width="0.12" >NF1</text></g>
<rect x="73.20" y="371.04" width="339.60" height="5.35" fill="#f6f6f6" />
<g transform="translate(68.80,376.23) scale(0.8696,1)"><text x="0" y="0" font-size="6.90" text-anchor="end" fill="#1a1a1a" stroke="#1a1a1a" stroke-width="0.12" >IDH2</text></g>
<rect x="73.20" y="377.15" width="339.60" height="5.35" fill="#f6f6f6" />
<g transform="translate(68.80,382.34) scale(0.8696,1)"><text x="0" y="0" font-size="6.90" text-anchor="end" fill="#1a1a1a" stroke="#1a1a1a" stroke-width="0.12" >GNAS</text></g>
<rect x="73.20" y="383.26" width="339.60" height="5.35" fill="#f6f6f6" />
<g transform="translate(68.80,388.45) scale(0.8696,1)"><text x="0" y="0" font-size="6.90" text-anchor="end" fill="#1a1a1a" stroke="#1a1a1a" stroke-width="0.12" >EZH2</text></g>
<rect x="73.20" y="389.36" width="339.60" height="5.35" fill="#f6f6f6" />
<g transform="translate(68.80,394.55) scale(0.8696,1)"><text x="0" y="0" font-size="6.90" text-anchor="end" fill="#1a1a1a" stroke="#1a1a1a" stroke-width="0.12" >CBL</text></g>
<rect x="73.20" y="395.47" width="339.60" height="5.35" fill="#f6f6f6" />
<g transform="translate(68.80,400.66) scale(0.8696,1)"><text x="0" y="0" font-size="6.90" text-anchor="end" fill="#1a1a1a" stroke="#1a1a1a" stroke-width="0.12" >CALR</text></g>
<rect x="73.20" y="401.57" width="339.60" height="5.35" fill="#f6f6f6" />
<g transform="translate(68.80,406.76) scale(0.8696,1)"><text x="0" y="0" font-size="6.90" text-anchor="end" fill="#1a1a1a" stroke="#1a1a1a" stroke-width="0.12" >BCORL1</text></g>
<rect x="73.20" y="407.68" width="339.60" height="5.35" fill="#f6f6f6" />
<g transform="translate(68.80,412.87) scale(0.8696,1)"><text x="0" y="0" font-size="6.90" text-anchor="end" fill="#1a1a1a" stroke="#1a1a1a" stroke-width="0.12" >ATM</text></g>
<rect x="73.20" y="224.50" width="2.05" height="5.35" fill="#f9c6dc" />
<rect x="75.20" y="224.50" width="3.05" height="5.35" fill="#f9c4db" />
<rect x="78.20" y="224.50" width="2.05" height="5.35" fill="#fad1e3" />
<rect x="80.20" y="224.50" width="3.05" height="5.35" fill="#facee1" />
<rect x="83.20" y="224.50" width="1.25" height="5.35" fill="#f9c8dd" />
<rect x="84.40" y="224.50" width="2.05" height="5.35" fill="#facce0" />
<rect x="86.40" y="224.50" width="3.05" height="5.35" fill="#fbd9e7" />
<rect x="89.40" y="224.50" width="2.05" height="5.35" fill="#fbd5e5" />
<rect x="91.40" y="224.50" width="0.85" height="5.35" fill="#facfe1" />
<rect x="92.20" y="224.50" width="2.55" height="5.35" fill="#facce0" />
<rect x="94.70" y="224.50" width="2.05" height="5.35" fill="#f9c3da" />
<rect x="96.70" y="224.50" width="2.05" height="5.35" fill="#faccdf" />
<rect x="98.70" y="224.50" width="2.05" height="5.35" fill="#facce0" />
<rect x="100.70" y="224.50" width="2.05" height="5.35" fill="#fcddea" />
<rect x="102.70" y="224.50" width="2.05" height="5.35" fill="#fbdce9" />
<rect x="104.70" y="224.50" width="0.85" height="5.35" fill="#fbd8e7" />
<rect x="105.50" y="224.50" width="1.25" height="5.35" fill="#facde0" />
<rect x="106.70" y="224.50" width="3.05" height="5.35" fill="#fad1e3" />
<rect x="109.70" y="224.50" width="2.05" height="5.35" fill="#facde1" />
<rect x="111.70" y="224.50" width="1.25" height="5.35" fill="#facfe2" />
<rect x="112.90" y="224.50" width="2.55" height="5.35" fill="#fbd6e6" />
<rect x="115.40" y="224.50" width="0.85" height="5.35" fill="#faccdf" />
<rect x="116.20" y="224.50" width="2.05" height="5.35" fill="#faccdf" />
<rect x="118.20" y="224.50" width="2.05" height="5.35" fill="#f9c2da" />
<rect x="120.20" y="224.50" width="3.05" height="5.35" fill="#fbdbe9" />
<rect x="123.20" y="224.50" width="1.55" height="5.35" fill="#fbd5e5" />
<rect x="124.70" y="224.50" width="1.25" height="5.35" fill="#fad0e2" />
<rect x="125.90" y="224.50" width="0.85" height="5.35" fill="#fbdce9" />
<rect x="126.70" y="224.50" width="3.05" height="5.35" fill="#fbdbe9" />
<rect x="129.70" y="224.50" width="0.85" height="5.35" fill="#f9c6dc" />
<rect x="130.50" y="224.50" width="2.05" height="5.35" fill="#fbdce9" />
<rect x="132.50" y="224.50" width="0.85" height="5.35" fill="#f9c6dc" />
<rect x="133.30" y="224.50" width="0.85" height="5.35" fill="#fbd8e7" />
<rect x="134.10" y="224.50" width="0.85" height="5.35" fill="#fad1e3" />
<rect x="134.90" y="224.50" width="2.55" height="5.35" fill="#fad3e4" />
<rect x="137.40" y="224.50" width="0.85" height="5.35" fill="#facee1" />
<rect x="138.20" y="224.50" width="1.25" height="5.35" fill="#f9c8dd" />
<rect x="139.40" y="224.50" width="1.55" height="5.35" fill="#fbd4e5" />
<rect x="140.90" y="224.50" width="1.55" height="5.35" fill="#fbd5e5" />
<rect x="142.40" y="224.50" width="2.05" height="5.35" fill="#fac9de" />
<rect x="144.40" y="224.50" width="0.85" height="5.35" fill="#fbdae8" />
<rect x="145.20" y="224.50" width="2.55" height="5.35" fill="#fbdbe9" />
<rect x="147.70" y="224.50" width="0.85" height="5.35" fill="#fad1e3" />
<rect x="148.50" y="224.50" width="2.05" height="5.35" fill="#fbd9e7" />
<rect x="150.50" y="224.50" width="2.05" height="5.35" fill="#fbd8e7" />
<rect x="152.50" y="224.50" width="2.05" height="5.35" fill="#fbd8e7" />
<rect x="154.50" y="224.50" width="2.55" height="5.35" fill="#fac9de" />
<rect x="157.00" y="224.50" width="2.05" height="5.35" fill="#facce0" />
<rect x="159.00" y="224.50" width="0.85" height="5.35" fill="#fad3e4" />
<rect x="159.80" y="224.50" width="1.25" height="5.35" fill="#fcdeea" />
<rect x="161.00" y="224.50" width="3.05" height="5.35" fill="#f9c3da" />
<rect x="164.00" y="224.50" width="3.05" height="5.35" fill="#facde1" />
<rect x="167.00" y="224.50" width="0.85" height="5.35" fill="#fbd8e7" />
<rect x="167.80" y="224.50" width="2.05" height="5.35" fill="#f9c2da" />
<rect x="169.80" y="224.50" width="2.05" height="5.35" fill="#facce0" />
<rect x="171.80" y="224.50" width="0.85" height="5.35" fill="#fbdcea" />
<rect x="172.60" y="224.50" width="1.25" height="5.35" fill="#fbd8e7" />
<rect x="173.80" y="224.50" width="1.55" height="5.35" fill="#fcddea" />
<rect x="175.30" y="224.50" width="2.05" height="5.35" fill="#fbd5e5" />
<rect x="177.30" y="224.50" width="1.55" height="5.35" fill="#fbd3e4" />
<rect x="178.80" y="224.50" width="0.85" height="5.35" fill="#fbdbe9" />
<rect x="179.60" y="224.50" width="2.05" height="5.35" fill="#facce0" />
<rect x="181.60" y="224.50" width="0.85" height="5.35" fill="#facde0" />
<rect x="182.40" y="224.50" width="1.55" height="5.35" fill="#facde0" />
<rect x="183.90" y="224.50" width="1.25" height="5.35" fill="#f9c3da" />
<rect x="185.10" y="224.50" width="2.05" height="5.35" fill="#f9c7dd" />
<rect x="187.10" y="224.50" width="1.25" height="5.35" fill="#f9c6dc" />
<rect x="188.30" y="224.50" width="1.25" height="5.35" fill="#facce0" />
<rect x="189.50" y="224.50" width="1.55" height="5.35" fill="#f9c5db" />
<rect x="191.00" y="224.50" width="3.05" height="5.35" fill="#facde0" />
<rect x="194.00" y="224.50" width="2.55" height="5.35" fill="#fbd8e7" />
<rect x="196.50" y="224.50" width="2.55" height="5.35" fill="#facce0" />
<rect x="199.00" y="224.50" width="2.05" height="5.35" fill="#fbd8e7" />
<rect x="201.00" y="224.50" width="2.05" height="5.35" fill="#f9c6dc" />
<rect x="203.00" y="224.50" width="2.05" height="5.35" fill="#fbdbe9" />
<rect x="205.00" y="224.50" width="0.85" height="5.35" fill="#fbdbe9" />
<rect x="205.80" y="224.50" width="0.85" height="5.35" fill="#fad0e2" />
<rect x="206.60" y="224.50" width="1.55" height="5.35" fill="#fbd7e6" />
<rect x="208.10" y="224.50" width="2.55" height="5.35" fill="#fbd3e4" />
<rect x="210.60" y="224.50" width="2.05" height="5.35" fill="#f9c7dd" />
<rect x="212.60" y="224.50" width="2.05" height="5.35" fill="#fad0e2" />
<rect x="214.60" y="224.50" width="2.05" height="5.35" fill="#fbd9e7" />
<rect x="216.60" y="224.50" width="2.55" height="5.35" fill="#f9c3da" />
<rect x="219.10" y="224.50" width="1.25" height="5.35" fill="#fbd7e7" />
<rect x="220.30" y="224.50" width="2.05" height="5.35" fill="#faccdf" />
<rect x="222.30" y="224.50" width="2.05" height="5.35" fill="#facde0" />
<rect x="224.30" y="224.50" width="1.55" height="5.35" fill="#fbd8e7" />
<rect x="225.80" y="224.50" width="1.25" height="5.35" fill="#fac9de" />
<rect x="227.00" y="224.50" width="0.85" height="5.35" fill="#fbd6e6" />
<rect x="227.80" y="224.50" width="2.05" height="5.35" fill="#fbd7e6" />
<rect x="229.80" y="224.50" width="0.85" height="5.35" fill="#fbd9e7" />
<rect x="230.60" y="224.50" width="1.55" height="5.35" fill="#facfe2" />
<rect x="232.10" y="224.50" width="1.25" height="5.35" fill="#fbdbe9" />
<rect x="233.30" y="224.50" width="1.25" height="5.35" fill="#f9c5dc" />
<rect x="234.50" y="224.50" width="1.55" height="5.35" fill="#faccdf" />
<rect x="236.00" y="224.50" width="2.55" height="5.35" fill="#facfe2" />
<rect x="238.50" y="224.50" width="1.25" height="5.35" fill="#facde1" />
<rect x="239.70" y="224.50" width="0.85" height="5.35" fill="#fad1e2" />
<rect x="240.50" y="224.50" width="1.55" height="5.35" fill="#facadf" />
<rect x="242.00" y="224.50" width="0.85" height="5.35" fill="#fbddea" />
<rect x="242.80" y="224.50" width="2.55" height="5.35" fill="#fbdce9" />
<rect x="245.30" y="224.50" width="0.85" height="5.35" fill="#facade" />
<rect x="246.10" y="224.50" width="1.55" height="5.35" fill="#fbdae8" />
<rect x="247.60" y="224.50" width="0.85" height="5.35" fill="#fbdce9" />
<rect x="248.40" y="224.50" width="2.05" height="5.35" fill="#fbd4e4" />
<rect x="250.40" y="224.50" width="0.85" height="5.35" fill="#f9c5db" />
<rect x="251.20" y="224.50" width="2.55" height="5.35" fill="#fac9de" />
<rect x="253.70" y="224.50" width="1.25" height="5.35" fill="#f9c8dd" />
<rect x="254.90" y="224.50" width="1.55" height="5.35" fill="#fbd4e5" />
<rect x="256.40" y="224.50" width="2.55" height="5.35" fill="#fad1e3" />
<rect x="258.90" y="224.50" width="0.85" height="5.35" fill="#f9c6dc" />
<rect x="259.70" y="224.50" width="2.05" height="5.35" fill="#f9c4db" />
<rect x="261.70" y="224.50" width="0.85" height="5.35" fill="#f9c6dc" />
<rect x="262.50" y="224.50" width="2.05" height="5.35" fill="#fcddea" />
<rect x="264.50" y="224.50" width="2.55" height="5.35" fill="#fbd3e4" />
<rect x="267.00" y="224.50" width="2.05" height="5.35" fill="#fcddea" />
<rect x="269.00" y="224.50" width="0.85" height="5.35" fill="#fbdbe9" />
<rect x="269.80" y="224.50" width="2.55" height="5.35" fill="#fbdae8" />
<rect x="272.30" y="224.50" width="1.55" height="5.35" fill="#f9c6dc" />
<rect x="273.80" y="224.50" width="2.55" height="5.35" fill="#fbd5e5" />
<rect x="276.30" y="224.50" width="2.55" height="5.35" fill="#facbdf" />
<rect x="278.80" y="224.50" width="2.05" height="5.35" fill="#fad2e3" />
<rect x="280.80" y="224.50" width="3.05" height="5.35" fill="#facfe1" />
<rect x="283.80" y="224.50" width="2.05" height="5.35" fill="#fac9de" />
<rect x="285.80" y="224.50" width="0.85" height="5.35" fill="#fbd5e5" />
<rect x="286.60" y="224.50" width="0.85" height="5.35" fill="#fad0e2" />
<rect x="287.40" y="224.50" width="1.25" height="5.35" fill="#f9c3da" />
<rect x="288.60" y="224.50" width="0.85" height="5.35" fill="#fad0e2" />
<rect x="289.40" y="224.50" width="2.05" height="5.35" fill="#faccdf" />
<rect x="291.40" y="224.50" width="2.05" height="5.35" fill="#fbd7e6" />
<rect x="293.40" y="224.50" width="0.85" height="5.35" fill="#fbd4e4" />
<rect x="294.20" y="224.50" width="1.25" height="5.35" fill="#facbdf" />
<rect x="295.40" y="224.50" width="1.25" height="5.35" fill="#facfe2" />
<rect x="296.60" y="224.50" width="3.05" height="5.35" fill="#f9c5db" />
<rect x="299.60" y="224.50" width="2.55" height="5.35" fill="#f9c4db" />
<rect x="302.10" y="224.50" width="2.05" height="5.35" fill="#f9c5dc" />
<rect x="304.10" y="224.50" width="1.55" height="5.35" fill="#fad3e4" />
<rect x="305.60" y="224.50" width="1.55" height="5.35" fill="#fbd8e7" />
<rect x="307.10" y="224.50" width="2.05" height="5.35" fill="#f9c8dd" />
<rect x="309.10" y="224.50" width="3.05" height="5.35" fill="#f9c5db" />
<rect x="312.10" y="224.50" width="1.25" height="5.35" fill="#fbd3e4" />
<rect x="313.30" y="224.50" width="2.05" height="5.35" fill="#f9c4db" />
<rect x="315.30" y="224.50" width="1.25" height="5.35" fill="#fbdae8" />
<rect x="316.50" y="224.50" width="2.05" height="5.35" fill="#fbd4e5" />
<rect x="318.50" y="224.50" width="3.05" height="5.35" fill="#fbdcea" />
<rect x="321.50" y="224.50" width="0.85" height="5.35" fill="#f9c4db" />
<rect x="322.30" y="224.50" width="1.55" height="5.35" fill="#f9c7dd" />
<rect x="323.80" y="224.50" width="0.85" height="5.35" fill="#fad1e3" />
<rect x="324.60" y="224.50" width="1.55" height="5.35" fill="#f9c4db" />
<rect x="326.10" y="224.50" width="3.05" height="5.35" fill="#fad2e3" />
<rect x="329.10" y="224.50" width="2.55" height="5.35" fill="#facfe2" />
<rect x="331.60" y="224.50" width="2.55" height="5.35" fill="#fbd5e5" />
<rect x="334.10" y="224.50" width="1.75" height="5.35" fill="#f9c7dc" />
<rect x="73.30" y="224.50" width="2.10" height="5.35" fill="#f7aacb" />
<rect x="80.00" y="224.50" width="1.40" height="5.35" fill="#f7aacb" />
<rect x="83.40" y="224.50" width="1.40" height="5.35" fill="#f7aacb" />
<rect x="90.20" y="224.50" width="2.00" height="5.35" fill="#f392bb" />
<rect x="96.90" y="224.50" width="0.90" height="5.35" fill="#f078aa" />
<rect x="99.60" y="224.50" width="3.40" height="5.35" fill="#f7aacb" />
<rect x="112.40" y="224.50" width="2.00" height="5.35" fill="#f7aacb" />
<rect x="118.40" y="224.50" width="3.40" height="5.35" fill="#f7aacb" />
<rect x="123.10" y="224.50" width="1.40" height="5.35" fill="#f7aacb" />
<rect x="126.50" y="224.50" width="1.40" height="5.35" fill="#f078aa" />
<rect x="140.00" y="224.50" width="2.70" height="5.35" fill="#f9bfd7" />
<rect x="144.00" y="224.50" width="0.80" height="5.35" fill="#f7aacb" />
<rect x="148.00" y="224.50" width="2.80" height="5.35" fill="#f7aacb" />
<rect x="152.00" y="224.50" width="2.50" height="5.35" fill="#f9bfd7" />
<rect x="156.20" y="224.50" width="5.30" height="5.35" fill="#f7aacb" />
<rect x="163.50" y="224.50" width="2.70" height="5.35" fill="#f7aacb" />
<rect x="169.00" y="224.50" width="3.30" height="5.35" fill="#f7aacb" />
<rect x="180.40" y="224.50" width="3.30" height="5.35" fill="#f17eae" />
<rect x="185.00" y="224.50" width="1.40" height="5.35" fill="#f7aacb" />
<rect x="188.50" y="224.50" width="1.30" height="5.35" fill="#f392bb" />
<rect x="191.80" y="224.50" width="4.70" height="5.35" fill="#f7aacb" />
<rect x="206.00" y="224.50" width="2.60" height="5.35" fill="#f7aacb" />
<rect x="210.00" y="224.50" width="4.00" height="5.35" fill="#f9bfd7" />
<rect x="214.70" y="224.50" width="1.30" height="5.35" fill="#f7aacb" />
<rect x="217.40" y="224.50" width="3.40" height="5.35" fill="#f59ec3" />
<rect x="230.20" y="224.50" width="2.00" height="5.35" fill="#f392bb" />
<rect x="234.50" y="224.50" width="2.50" height="5.35" fill="#f9bfd7" />
<rect x="239.00" y="224.50" width="3.30" height="5.35" fill="#f7aacb" />
<rect x="244.30" y="224.50" width="2.70" height="5.35" fill="#f7aacb" />
<rect x="248.40" y="224.50" width="3.30" height="5.35" fill="#f7aacb" />
<rect x="264.50" y="224.50" width="2.00" height="5.35" fill="#f9bfd7" />
<rect x="268.00" y="224.50" width="12.00" height="5.35" fill="#f9c3da" />
<rect x="280.00" y="224.50" width="4.00" height="5.35" fill="#f7aacb" />
<rect x="285.40" y="224.50" width="2.60" height="5.35" fill="#f7aacb" />
<rect x="291.40" y="224.50" width="4.10" height="5.35" fill="#f7aacb" />
<rect x="303.60" y="224.50" width="1.30" height="5.35" fill="#f28ab6" />
<rect x="306.50" y="224.50" width="6.00" height="5.35" fill="#f9bfd7" />
<rect x="314.00" y="224.50" width="1.00" height="5.35" fill="#f7aacb" />
<rect x="318.50" y="224.50" width="1.00" height="5.35" fill="#f7aacb" />
<rect x="328.50" y="224.50" width="4.70" height="5.35" fill="#f7aacb" />
<rect x="78.99" y="224.50" width="0.45" height="5.35" fill="#ffffff" opacity="0.6"/>
<rect x="86.28" y="224.50" width="0.45" height="5.35" fill="#ffffff" opacity="0.6"/>
<rect x="97.42" y="224.50" width="0.45" height="5.35" fill="#ffffff" opacity="0.6"/>
<rect x="104.52" y="224.50" width="0.45" height="5.35" fill="#ffffff" opacity="0.6"/>
<rect x="112.12" y="224.50" width="0.45" height="5.35" fill="#ffffff" opacity="0.6"/>
<rect x="117.70" y="224.50" width="0.45" height="5.35" fill="#ffffff" opacity="0.6"/>
<rect x="128.80" y="224.50" width="0.45" height="5.35" fill="#ffffff" opacity="0.6"/>
<rect x="132.85" y="224.50" width="0.45" height="5.35" fill="#ffffff" opacity="0.6"/>
<rect x="141.25" y="224.50" width="0.45" height="5.35" fill="#ffffff" opacity="0.6"/>
<rect x="150.47" y="224.50" width="0.45" height="5.35" fill="#ffffff" opacity="0.6"/>
<rect x="158.49" y="224.50" width="0.45" height="5.35" fill="#ffffff" opacity="0.6"/>
<rect x="169.05" y="224.50" width="0.45" height="5.35" fill="#ffffff" opacity="0.6"/>
<rect x="175.79" y="224.50" width="0.45" height="5.35" fill="#ffffff" opacity="0.6"/>
<rect x="182.41" y="224.50" width="0.45" height="5.35" fill="#ffffff" opacity="0.6"/>
<rect x="194.27" y="224.50" width="0.45" height="5.35" fill="#ffffff" opacity="0.6"/>
<rect x="199.06" y="224.50" width="0.45" height="5.35" fill="#ffffff" opacity="0.6"/>
<rect x="209.99" y="224.50" width="0.45" height="5.35" fill="#ffffff" opacity="0.6"/>
<rect x="220.37" y="224.50" width="0.45" height="5.35" fill="#ffffff" opacity="0.6"/>
<rect x="231.77" y="224.50" width="0.45" height="5.35" fill="#ffffff" opacity="0.6"/>
<rect x="236.75" y="224.50" width="0.45" height="5.35" fill="#ffffff" opacity="0.6"/>
<rect x="242.69" y="224.50" width="0.45" height="5.35" fill="#ffffff" opacity="0.6"/>
<rect x="249.81" y="224.50" width="0.45" height="5.35" fill="#ffffff" opacity="0.6"/>
<rect x="254.52" y="224.50" width="0.45" height="5.35" fill="#ffffff" opacity="0.6"/>
<rect x="261.00" y="224.50" width="0.45" height="5.35" fill="#ffffff" opacity="0.6"/>
<rect x="272.81" y="224.50" width="0.45" height="5.35" fill="#ffffff" opacity="0.6"/>
<rect x="284.27" y="224.50" width="0.45" height="5.35" fill="#ffffff" opacity="0.6"/>
<rect x="290.36" y="224.50" width="0.45" height="5.35" fill="#ffffff" opacity="0.6"/>
<rect x="300.11" y="224.50" width="0.45" height="5.35" fill="#ffffff" opacity="0.6"/>
<rect x="304.23" y="224.50" width="0.45" height="5.35" fill="#ffffff" opacity="0.6"/>
<rect x="312.27" y="224.50" width="0.45" height="5.35" fill="#ffffff" opacity="0.6"/>
<rect x="316.57" y="224.50" width="0.45" height="5.35" fill="#ffffff" opacity="0.6"/>
<rect x="323.31" y="224.50" width="0.45" height="5.35" fill="#ffffff" opacity="0.6"/>
<rect x="330.68" y="224.50" width="0.45" height="5.35" fill="#ffffff" opacity="0.6"/>
<rect x="73.20" y="230.61" width="3.05" height="5.35" fill="#facbdf" />
<rect x="76.20" y="230.61" width="3.05" height="5.35" fill="#fcdeeb" />
<rect x="79.20" y="230.61" width="2.05" height="5.35" fill="#fbd9e8" />
<rect x="81.20" y="230.61" width="2.05" height="5.35" fill="#fbd4e5" />
<rect x="83.20" y="230.61" width="1.25" height="5.35" fill="#fad0e2" />
<rect x="84.40" y="230.61" width="1.55" height="5.35" fill="#fbd6e6" />
<rect x="85.90" y="230.61" width="1.25" height="5.35" fill="#fad2e3" />
<rect x="87.10" y="230.61" width="0.85" height="5.35" fill="#fcddea" />
<rect x="87.90" y="230.61" width="2.55" height="5.35" fill="#fbd5e5" />
<rect x="90.40" y="230.61" width="0.85" height="5.35" fill="#fbd4e5" />
<rect x="91.20" y="230.61" width="2.55" height="5.35" fill="#fbd6e6" />
<rect x="93.70" y="230.61" width="3.05" height="5.35" fill="#fcdeeb" />
<rect x="96.70" y="230.61" width="3.05" height="5.35" fill="#fcdfeb" />
<rect x="99.70" y="230.61" width="1.55" height="5.35" fill="#fad1e3" />
<rect x="101.20" y="230.61" width="2.05" height="5.35" fill="#fbdbe9" />
<rect x="103.20" y="230.61" width="2.55" height="5.35" fill="#fbd8e7" />
<rect x="105.70" y="230.61" width="3.05" height="5.35" fill="#facde0" />
<rect x="108.70" y="230.61" width="2.05" height="5.35" fill="#fbd9e8" />
<rect x="110.70" y="230.61" width="1.55" height="5.35" fill="#fbd3e4" />
<rect x="112.20" y="230.61" width="3.05" height="5.35" fill="#fbd5e5" />
<rect x="115.20" y="230.61" width="2.55" height="5.35" fill="#fbd5e5" />
<rect x="117.70" y="230.61" width="3.05" height="5.35" fill="#fbd6e6" />
<rect x="120.70" y="230.61" width="2.55" height="5.35" fill="#fbdce9" />
<rect x="123.20" y="230.61" width="3.05" height="5.35" fill="#fbdce9" />
<rect x="126.20" y="230.61" width="1.55" height="5.35" fill="#fad1e3" />
<rect x="127.70" y="230.61" width="2.05" height="5.35" fill="#fbdbe9" />
<rect x="129.70" y="230.61" width="0.85" height="5.35" fill="#fcdeeb" />
<rect x="130.50" y="230.61" width="2.05" height="5.35" fill="#fcdfeb" />
<rect x="132.50" y="230.61" width="1.55" height="5.35" fill="#facbdf" />
<rect x="134.00" y="230.61" width="1.55" height="5.35" fill="#facee1" />
<rect x="135.50" y="230.61" width="1.55" height="5.35" fill="#fcddea" />
<rect x="137.00" y="230.61" width="1.55" height="5.35" fill="#fbd4e4" />
<rect x="138.50" y="230.61" width="3.05" height="5.35" fill="#fbd6e6" />
<rect x="141.50" y="230.61" width="1.25" height="5.35" fill="#fbdae8" />
<rect x="142.70" y="230.61" width="0.85" height="5.35" fill="#fad2e3" />
<rect x="143.50" y="230.61" width="0.85" height="5.35" fill="#fad0e2" />
<rect x="144.30" y="230.61" width="3.05" height="5.35" fill="#fbd5e5" />
<rect x="147.30" y="230.61" width="1.55" height="5.35" fill="#fbd4e4" />
<rect x="148.80" y="230.61" width="2.55" height="5.35" fill="#fad3e4" />
<rect x="151.30" y="230.61" width="2.05" height="5.35" fill="#fbdce9" />
<rect x="153.30" y="230.61" width="0.85" height="5.35" fill="#fcdeeb" />
<rect x="154.10" y="230.61" width="2.05" height="5.35" fill="#fbd7e6" />
<rect x="156.10" y="230.61" width="1.25" height="5.35" fill="#facee1" />
<rect x="157.30" y="230.61" width="2.55" height="5.35" fill="#fcdfeb" />
<rect x="159.80" y="230.61" width="1.25" height="5.35" fill="#facee1" />
<rect x="161.00" y="230.61" width="0.85" height="5.35" fill="#fbd4e4" />
<rect x="161.80" y="230.61" width="2.05" height="5.35" fill="#facfe2" />
<rect x="163.80" y="230.61" width="1.55" height="5.35" fill="#fcdfeb" />
<rect x="165.30" y="230.61" width="1.45" height="5.35" fill="#fbd7e7" />
<rect x="73.30" y="230.61" width="2.10" height="5.35" fill="#f9bfd8" />
<rect x="80.00" y="230.61" width="1.40" height="5.35" fill="#f9c3da" />
<rect x="83.40" y="230.61" width="1.40" height="5.35" fill="#f8b7d3" />
<rect x="90.20" y="230.61" width="2.00" height="5.35" fill="#f7b3d1" />
<rect x="96.90" y="230.61" width="0.90" height="5.35" fill="#f180af" />
<rect x="99.60" y="230.61" width="3.40" height="5.35" fill="#f6a7c9" />
<rect x="112.40" y="230.61" width="2.00" height="5.35" fill="#f9bfd7" />
<rect x="118.40" y="230.61" width="3.40" height="5.35" fill="#f9c2da" />
<rect x="123.10" y="230.61" width="1.40" height="5.35" fill="#f8b5d2" />
<rect x="126.50" y="230.61" width="1.40" height="5.35" fill="#f6a6c8" />
<rect x="140.00" y="230.61" width="2.70" height="5.35" fill="#f9c5dc" />
<rect x="144.00" y="230.61" width="0.80" height="5.35" fill="#f7accc" />
<rect x="148.00" y="230.61" width="2.80" height="5.35" fill="#f8bed7" />
<rect x="152.00" y="230.61" width="2.50" height="5.35" fill="#fac9de" />
<rect x="156.20" y="230.61" width="5.30" height="5.35" fill="#f6a9ca" />
<rect x="163.50" y="230.61" width="2.70" height="5.35" fill="#f8b8d3" />
<rect x="79.94" y="230.61" width="0.45" height="5.35" fill="#ffffff" opacity="0.6"/>
<rect x="91.08" y="230.61" width="0.45" height="5.35" fill="#ffffff" opacity="0.6"/>
<rect x="101.59" y="230.61" width="0.45" height="5.35" fill="#ffffff" opacity="0.6"/>
<rect x="112.75" y="230.61" width="0.45" height="5.35" fill="#ffffff" opacity="0.6"/>
<rect x="122.25" y="230.61" width="0.45" height="5.35" fill="#ffffff" opacity="0.6"/>
<rect x="129.56" y="230.61" width="0.45" height="5.35" fill="#ffffff" opacity="0.6"/>
<rect x="139.10" y="230.61" width="0.45" height="5.35" fill="#ffffff" opacity="0.6"/>
<rect x="149.74" y="230.61" width="0.45" height="5.35" fill="#ffffff" opacity="0.6"/>
<rect x="158.85" y="230.61" width="0.45" height="5.35" fill="#ffffff" opacity="0.6"/>
<rect x="164.76" y="230.61" width="0.45" height="5.35" fill="#ffffff" opacity="0.6"/>
<rect x="336.30" y="230.61" width="5.20" height="5.35" fill="#fbd0e2" />
<rect x="75.80" y="236.71" width="3.80" height="5.35" fill="#fbd0e2" />
<rect x="166.70" y="236.71" width="14.10" height="5.35" fill="#fde0ec" />
<rect x="168.50" y="236.71" width="2.00" height="5.35" fill="#fbd0e2" />
<rect x="175.50" y="236.71" width="2.00" height="5.35" fill="#fbd0e2" />
<rect x="341.50" y="236.71" width="30.00" height="5.35" fill="#fbd0e2" />
<rect x="342.00" y="236.71" width="1.50" height="5.35" fill="#f7a3c6" />
<rect x="344.00" y="236.71" width="1.20" height="5.35" fill="#f06aa0" />
<rect x="346.50" y="236.71" width="1.50" height="5.35" fill="#f7a3c6" />
<rect x="350.00" y="236.71" width="1.50" height="5.35" fill="#f7a3c6" />
<rect x="358.50" y="236.71" width="2.80" height="5.35" fill="#f7a3c6" />
<rect x="76.20" y="242.82" width="0.80" height="5.35" fill="#f7a3c6" />
<rect x="168.00" y="242.82" width="0.80" height="5.35" fill="#fbd0e2" />
<rect x="180.80" y="242.82" width="9.60" height="5.35" fill="#fbd0e2" />
<rect x="181.00" y="242.82" width="2.00" height="5.35" fill="#f06aa0" />
<rect x="185.00" y="242.82" width="1.00" height="5.35" fill="#f7a3c6" />
<rect x="188.00" y="242.82" width="2.00" height="5.35" fill="#f7a3c6" />
<rect x="336.30" y="242.82" width="1.40" height="5.35" fill="#fbd0e2" />
<rect x="344.00" y="242.82" width="4.80" height="5.35" fill="#f7a3c6" />
<rect x="372.90" y="242.82" width="2.30" height="5.35" fill="#f06aa0" />
<rect x="375.80" y="242.82" width="5.40" height="5.35" fill="#fbd0e2" />
<rect x="79.60" y="248.92" width="16.00" height="5.35" fill="#fcdbe9" />
<rect x="80.00" y="248.92" width="2.00" height="5.35" fill="#fbd0e2" />
<rect x="84.00" y="248.92" width="1.00" height="5.35" fill="#f7a3c6" />
<rect x="88.00" y="248.92" width="2.00" height="5.35" fill="#fbd0e2" />
<rect x="92.00" y="248.92" width="1.50" height="5.35" fill="#f7a3c6" />
<rect x="189.80" y="248.92" width="1.20" height="5.35" fill="#fbd0e2" />
<rect x="336.30" y="248.92" width="1.40" height="5.35" fill="#fbd0e2" />
<rect x="341.70" y="248.92" width="1.40" height="5.35" fill="#fbd0e2" />
<rect x="371.90" y="248.92" width="1.00" height="5.35" fill="#fbd0e2" />
<rect x="381.20" y="248.92" width="3.20" height="5.35" fill="#f7a3c6" />
<rect x="81.20" y="255.03" width="1.30" height="5.35" fill="#f7a3c6" />
<rect x="191.70" y="255.03" width="2.30" height="5.35" fill="#f7a3c6" />
<rect x="345.40" y="255.03" width="1.10" height="5.35" fill="#f7a3c6" />
<rect x="372.90" y="255.03" width="1.90" height="5.35" fill="#f06aa0" />
<rect x="385.00" y="255.03" width="7.10" height="5.35" fill="#fbd0e2" />
<rect x="388.00" y="255.03" width="2.00" height="5.35" fill="#f7a3c6" />
<rect x="169.00" y="261.14" width="1.60" height="5.35" fill="#f7a3c6" />
<rect x="374.40" y="261.14" width="1.40" height="5.35" fill="#f7a3c6" />
<rect x="393.10" y="261.14" width="3.40" height="5.35" fill="#fbd0e2" />
<rect x="194.00" y="267.24" width="1.80" height="5.35" fill="#f7a3c6" />
<rect x="393.10" y="267.24" width="1.50" height="5.35" fill="#fbd0e2" />
<rect x="396.90" y="267.24" width="1.90" height="5.35" fill="#f7a3c6" />
<rect x="349.80" y="273.35" width="1.00" height="5.35" fill="#fbd0e2" />
<rect x="372.90" y="273.35" width="1.90" height="5.35" fill="#f7a3c6" />
<rect x="399.40" y="273.35" width="2.30" height="5.35" fill="#fbd0e2" />
<rect x="82.50" y="279.45" width="1.30" height="5.35" fill="#f7a3c6" />
<rect x="195.50" y="279.45" width="2.40" height="5.35" fill="#f7a3c6" />
<rect x="182.20" y="285.56" width="1.80" height="5.35" fill="#f7a3c6" />
<rect x="198.10" y="285.56" width="3.00" height="5.35" fill="#f7a3c6" />
<rect x="374.40" y="291.67" width="1.40" height="5.35" fill="#fbd0e2" />
<rect x="402.30" y="291.67" width="1.50" height="5.35" fill="#fbd0e2" />
<rect x="397.00" y="297.77" width="1.50" height="5.35" fill="#ec2a78" />
<rect x="403.30" y="297.77" width="1.60" height="5.35" fill="#fbd0e2" />
<rect x="200.90" y="303.88" width="1.10" height="5.35" fill="#fbd0e2" />
<rect x="404.90" y="303.88" width="1.10" height="5.35" fill="#fbd0e2" />
<rect x="79.60" y="309.98" width="0.90" height="5.35" fill="#f7a3c6" />
<rect x="202.00" y="309.98" width="1.60" height="5.35" fill="#f7a3c6" />
<rect x="203.30" y="316.09" width="1.70" height="5.35" fill="#f7a3c6" />
<rect x="371.90" y="316.09" width="1.10" height="5.35" fill="#fbd0e2" />
<rect x="95.80" y="322.20" width="0.90" height="5.35" fill="#fbd0e2" />
<rect x="406.00" y="322.20" width="1.50" height="5.35" fill="#fbd0e2" />
<rect x="96.90" y="328.30" width="0.80" height="5.35" fill="#f7a3c6" />
<rect x="204.80" y="328.30" width="1.20" height="5.35" fill="#f7a3c6" />
<rect x="170.70" y="334.41" width="1.30" height="5.35" fill="#f7a3c6" />
<rect x="206.00" y="334.41" width="1.30" height="5.35" fill="#f7a3c6" />
<rect x="98.30" y="340.51" width="0.90" height="5.35" fill="#fbd0e2" />
<rect x="407.40" y="340.51" width="1.50" height="5.35" fill="#f06aa0" />
<rect x="408.70" y="346.62" width="1.30" height="5.35" fill="#f7a3c6" />
<rect x="99.60" y="352.73" width="1.30" height="5.35" fill="#f7a3c6" />
<rect x="207.20" y="358.83" width="1.60" height="5.35" fill="#fbd0e2" />
<rect x="410.00" y="364.94" width="1.30" height="5.35" fill="#fbd0e2" />
<rect x="397.00" y="371.04" width="1.20" height="5.35" fill="#ec2a78" />
<rect x="208.50" y="377.15" width="1.50" height="5.35" fill="#fbd0e2" />
<rect x="411.30" y="383.26" width="1.40" height="5.35" fill="#fbd0e2" />
<rect x="98.10" y="389.36" width="1.10" height="5.35" fill="#fbd0e2" />
<rect x="209.90" y="395.47" width="1.30" height="5.35" fill="#f7a3c6" />
<rect x="211.20" y="401.57" width="1.50" height="5.35" fill="#fbd0e2" />
<rect x="100.90" y="407.68" width="1.10" height="5.35" fill="#f7a3c6" />
<rect x="78.01" y="224.50" width="0.45" height="189.29" fill="#ffffff" opacity="0.55"/>
<rect x="84.50" y="224.50" width="0.45" height="189.29" fill="#ffffff" opacity="0.55"/>
<rect x="90.04" y="224.50" width="0.45" height="189.29" fill="#ffffff" opacity="0.55"/>
<rect x="96.86" y="224.50" width="0.45" height="189.29" fill="#ffffff" opacity="0.55"/>
<rect x="103.80" y="224.50" width="0.45" height="189.29" fill="#ffffff" opacity="0.55"/>
<rect x="107.66" y="224.50" width="0.45" height="189.29" fill="#ffffff" opacity="0.55"/>
<rect x="111.23" y="224.50" width="0.45" height="189.29" fill="#ffffff" opacity="0.55"/>
<rect x="119.34" y="224.50" width="0.45" height="189.29" fill="#ffffff" opacity="0.55"/>
<rect x="124.27" y="224.50" width="0.45" height="189.29" fill="#ffffff" opacity="0.55"/>
<rect x="129.05" y="224.50" width="0.45" height="189.29" fill="#ffffff" opacity="0.55"/>
<rect x="138.03" y="224.50" width="0.45" height="189.29" fill="#ffffff" opacity="0.55"/>
<rect x="144.12" y="224.50" width="0.45" height="189.29" fill="#ffffff" opacity="0.55"/>
<rect x="152.22" y="224.50" width="0.45" height="189.29" fill="#ffffff" opacity="0.55"/>
<rect x="158.34" y="224.50" width="0.45" height="189.29" fill="#ffffff" opacity="0.55"/>
<rect x="165.35" y="224.50" width="0.45" height="189.29" fill="#ffffff" opacity="0.55"/>
<rect x="169.68" y="224.50" width="0.45" height="189.29" fill="#ffffff" opacity="0.55"/>
<rect x="176.67" y="224.50" width="0.45" height="189.29" fill="#ffffff" opacity="0.55"/>
<rect x="184.95" y="224.50" width="0.45" height="189.29" fill="#ffffff" opacity="0.55"/>
<rect x="191.32" y="224.50" width="0.45" height="189.29" fill="#ffffff" opacity="0.55"/>
<rect x="198.90" y="224.50" width="0.45" height="189.29" fill="#ffffff" opacity="0.55"/>
<rect x="206.09" y="224.50" width="0.45" height="189.29" fill="#ffffff" opacity="0.55"/>
<rect x="209.95" y="224.50" width="0.45" height="189.29" fill="#ffffff" opacity="0.55"/>
<rect x="217.62" y="224.50" width="0.45" height="189.29" fill="#ffffff" opacity="0.55"/>
<rect x="224.37" y="224.50" width="0.45" height="189.29" fill="#ffffff" opacity="0.55"/>
<rect x="229.52" y="224.50" width="0.45" height="189.29" fill="#ffffff" opacity="0.55"/>
<rect x="233.19" y="224.50" width="0.45" height="189.29" fill="#ffffff" opacity="0.55"/>
<rect x="241.45" y="224.50" width="0.45" height="189.29" fill="#ffffff" opacity="0.55"/>
<rect x="247.55" y="224.50" width="0.45" height="189.29" fill="#ffffff" opacity="0.55"/>
<rect x="255.01" y="224.50" width="0.45" height="189.29" fill="#ffffff" opacity="0.55"/>
<rect x="263.34" y="224.50" width="0.45" height="189.29" fill="#ffffff" opacity="0.55"/>
<rect x="270.77" y="224.50" width="0.45" height="189.29" fill="#ffffff" opacity="0.55"/>
<rect x="279.34" y="224.50" width="0.45" height="189.29" fill="#ffffff" opacity="0.55"/>
<rect x="285.01" y="224.50" width="0.45" height="189.29" fill="#ffffff" opacity="0.55"/>
<rect x="292.91" y="224.50" width="0.45" height="189.29" fill="#ffffff" opacity="0.55"/>
<rect x="298.86" y="224.50" width="0.45" height="189.29" fill="#ffffff" opacity="0.55"/>
<rect x="307.50" y="224.50" width="0.45" height="189.29" fill="#ffffff" opacity="0.55"/>
<rect x="315.84" y="224.50" width="0.45" height="189.29" fill="#ffffff" opacity="0.55"/>
<rect x="319.87" y="224.50" width="0.45" height="189.29" fill="#ffffff" opacity="0.55"/>
<rect x="324.12" y="224.50" width="0.45" height="189.29" fill="#ffffff" opacity="0.55"/>
<rect x="328.82" y="224.50" width="0.45" height="189.29" fill="#ffffff" opacity="0.55"/>
<rect x="337.63" y="224.50" width="0.45" height="189.29" fill="#ffffff" opacity="0.55"/>
<rect x="343.52" y="224.50" width="0.45" height="189.29" fill="#ffffff" opacity="0.55"/>
<rect x="350.47" y="224.50" width="0.45" height="189.29" fill="#ffffff" opacity="0.55"/>
<rect x="355.63" y="224.50" width="0.45" height="189.29" fill="#ffffff" opacity="0.55"/>
<rect x="361.92" y="224.50" width="0.45" height="189.29" fill="#ffffff" opacity="0.55"/>
<rect x="367.54" y="224.50" width="0.45" height="189.29" fill="#ffffff" opacity="0.55"/>
<rect x="372.97" y="224.50" width="0.45" height="189.29" fill="#ffffff" opacity="0.55"/>
<rect x="379.69" y="224.50" width="0.45" height="189.29" fill="#ffffff" opacity="0.55"/>
<rect x="386.40" y="224.50" width="0.45" height="189.29" fill="#ffffff" opacity="0.55"/>
<rect x="394.87" y="224.50" width="0.45" height="189.29" fill="#ffffff" opacity="0.55"/>
<rect x="402.12" y="224.50" width="0.45" height="189.29" fill="#ffffff" opacity="0.55"/>
<rect x="410.73" y="224.50" width="0.45" height="189.29" fill="#ffffff" opacity="0.55"/>
<rect x="413.30" y="226.00" width="12.30" height="2.80" fill="#f7901e" />
<rect x="425.60" y="226.00" width="7.50" height="2.80" fill="#27a8e0" />
<rect x="433.10" y="226.00" width="39.30" height="2.80" fill="#39a935" />
<rect x="413.30" y="232.11" width="5.90" height="2.80" fill="#f7901e" />
<rect x="419.20" y="232.11" width="2.60" height="2.80" fill="#27a8e0" />
<rect x="421.80" y="232.11" width="13.00" height="2.80" fill="#39a935" />
<rect x="434.80" y="232.11" width="0.90" height="2.80" fill="#f7901e" />
<rect x="413.30" y="238.21" width="2.20" height="2.80" fill="#f7901e" />
<rect x="415.50" y="238.21" width="2.20" height="2.80" fill="#27a8e0" />
<rect x="417.70" y="238.21" width="6.40" height="2.80" fill="#39a935" />
<rect x="424.10" y="238.21" width="0.50" height="2.80" fill="#f7901e" />
<rect x="413.30" y="244.32" width="0.60" height="2.80" fill="#f7901e" />
<rect x="413.90" y="244.32" width="5.70" height="2.80" fill="#39a935" />
<rect x="413.30" y="250.42" width="0.60" height="2.80" fill="#f7901e" />
<rect x="413.90" y="250.42" width="1.00" height="2.80" fill="#27a8e0" />
<rect x="414.90" y="250.42" width="4.10" height="2.80" fill="#39a935" />
<rect x="413.30" y="256.53" width="0.50" height="2.80" fill="#f7901e" />
<rect x="413.80" y="256.53" width="0.80" height="2.80" fill="#27a8e0" />
<rect x="414.60" y="256.53" width="2.10" height="2.80" fill="#39a935" />
<rect x="413.30" y="262.64" width="1.70" height="2.80" fill="#39a935" />
<rect x="413.30" y="268.74" width="0.70" height="2.80" fill="#f7901e" />
<rect x="414.00" y="268.74" width="0.90" height="2.80" fill="#39a935" />
<rect x="413.30" y="274.85" width="0.80" height="2.80" fill="#f7901e" />
<rect x="414.10" y="274.85" width="0.90" height="2.80" fill="#39a935" />
<rect x="413.30" y="280.95" width="1.10" height="2.80" fill="#b8b040" />
<rect x="413.30" y="287.06" width="0.80" height="2.80" fill="#f7901e" />
<rect x="414.10" y="287.06" width="0.60" height="2.80" fill="#39a935" />
<rect x="413.30" y="293.17" width="1.50" height="2.80" fill="#39a935" />
<rect x="413.30" y="299.27" width="1.20" height="2.80" fill="#39a935" />
<rect x="413.30" y="305.38" width="0.90" height="2.80" fill="#27a8e0" opacity="0.75"/>
<rect x="413.30" y="311.48" width="0.90" height="2.80" fill="#39a935" opacity="0.75"/>
<rect x="413.30" y="317.59" width="0.90" height="2.80" fill="#39a935" opacity="0.75"/>
<rect x="413.30" y="323.70" width="0.90" height="2.80" fill="#27a8e0" opacity="0.75"/>
<rect x="413.30" y="329.80" width="0.90" height="2.80" fill="#39a935" opacity="0.75"/>
<rect x="413.30" y="335.91" width="0.90" height="2.80" fill="#27a8e0" opacity="0.75"/>
<rect x="413.30" y="342.01" width="0.90" height="2.80" fill="#c09030" opacity="0.75"/>
<rect x="413.30" y="348.12" width="0.90" height="2.80" fill="#39a935" opacity="0.75"/>
<rect x="413.30" y="354.23" width="0.90" height="2.80" fill="#39a935" opacity="0.75"/>
<rect x="413.30" y="360.33" width="0.90" height="2.80" fill="#27a8e0" opacity="0.75"/>
<rect x="413.30" y="366.44" width="0.90" height="2.80" fill="#f7901e" opacity="0.75"/>
<rect x="413.30" y="372.54" width="0.90" height="2.80" fill="#39a935" opacity="0.75"/>
<rect x="413.30" y="378.65" width="0.90" height="2.80" fill="#39a935" opacity="0.75"/>
<rect x="413.30" y="384.76" width="0.90" height="2.80" fill="#39a935" opacity="0.75"/>
<rect x="413.30" y="390.86" width="0.90" height="2.80" fill="#f7901e" opacity="0.75"/>
<rect x="413.30" y="396.97" width="0.90" height="2.80" fill="#39a935" opacity="0.75"/>
<rect x="413.30" y="403.07" width="0.90" height="2.80" fill="#39a935" opacity="0.75"/>
<rect x="413.30" y="409.18" width="0.90" height="2.80" fill="#39a935" opacity="0.75"/>
<rect x="419.40" y="206.40" width="52.40" height="5.60" fill="#ffffff" stroke="#222" stroke-width="1"/>
<rect x="419.90" y="206.90" width="16.90" height="4.60" fill="#fddbea" />
<rect x="436.80" y="206.90" width="17.30" height="4.60" fill="#f79ac0" />
<rect x="454.10" y="206.90" width="17.20" height="4.60" fill="#fa0064" />
<text x="428.10" y="219.11" font-size="6.60" text-anchor="middle" fill="#1a1a1a" stroke="#1a1a1a" stroke-width="0.15" >0</text>
<text x="463.60" y="219.11" font-size="6.60" text-anchor="middle" fill="#1a1a1a" stroke="#1a1a1a" stroke-width="0.15" >100</text>
<rect x="421.90" y="369.40" width="4.20" height="4.20" fill="#f7901e" />
<text x="429.40" y="373.88" font-size="6.80" text-anchor="start" fill="#1a1a1a" stroke="#1a1a1a" stroke-width="0.15" >Deletion</text>
<rect x="421.90" y="378.08" width="4.20" height="4.20" fill="#39a935" />
<text x="429.40" y="382.56" font-size="6.80" text-anchor="start" fill="#1a1a1a" stroke="#1a1a1a" stroke-width="0.15" >Missense</text>
<rect x="421.90" y="386.76" width="4.20" height="4.20" fill="#27a8e0" />
<text x="429.40" y="391.24" font-size="6.80" text-anchor="start" fill="#1a1a1a" stroke="#1a1a1a" stroke-width="0.15" >Nonsense</text>
<rect x="421.90" y="395.44" width="4.20" height="4.20" fill="#f7901e" />
<text x="429.40" y="399.92" font-size="6.80" text-anchor="start" fill="#1a1a1a" stroke="#1a1a1a" stroke-width="0.15" >Splice site</text>
<rect x="421.90" y="404.12" width="4.20" height="4.20" fill="#4a2a6c" />
<text x="429.40" y="408.60" font-size="6.80" text-anchor="start" fill="#1a1a1a" stroke="#1a1a1a" stroke-width="0.15" >Frame</text>
<line x1="413.20" y1="414.70" x2="473.00" y2="414.70" stroke="#333" stroke-width="1.1"/>
<line x1="413.20" y1="412.20" x2="413.20" y2="414.70" stroke="#333" stroke-width="1"/>
<line x1="443.00" y1="412.20" x2="443.00" y2="414.70" stroke="#333" stroke-width="1"/>
<line x1="472.90" y1="412.20" x2="472.90" y2="414.70" stroke="#333" stroke-width="1"/>
<text x="413.80" y="427.16" font-size="7.30" text-anchor="middle" fill="#1a1a1a" stroke="#1a1a1a" stroke-width="0.15" >0</text>
<text x="472.70" y="427.16" font-size="7.30" text-anchor="middle" fill="#1a1a1a" stroke="#1a1a1a" stroke-width="0.15" >200</text>
<g transform="translate(483.60,319.30) rotate(90)"><text x="0" y="2.77" font-size="7.9" text-anchor="middle" fill="#1a1a1a" stroke="#1a1a1a" stroke-width="0.4" textLength="82.5" lengthAdjust="spacingAndGlyphs">No. of patients with mutation</text></g>
<line x1="54.40" y1="472.00" x2="54.40" y2="602.70" stroke="#1e1e1e" stroke-width="1.25"/>
<line x1="53.80" y1="599.50" x2="211.80" y2="599.50" stroke="#1e1e1e" stroke-width="1.25"/>
<line x1="51.10" y1="475.80" x2="54.40" y2="475.80" stroke="#1e1e1e" stroke-width="1.2"/>
<g transform="translate(47.90,478.33) scale(0.9259,1)"><text x="0" y="0" font-size="8.10" text-anchor="end" fill="#1a1a1a" stroke="#1a1a1a" stroke-width="0.15" >100</text></g>
<line x1="51.10" y1="535.15" x2="54.40" y2="535.15" stroke="#1e1e1e" stroke-width="1.2"/>
<g transform="translate(47.90,537.69) scale(0.9259,1)"><text x="0" y="0" font-size="8.10" text-anchor="end" fill="#1a1a1a" stroke="#1a1a1a" stroke-width="0.15" >50</text></g>
<line x1="51.10" y1="594.50" x2="54.40" y2="594.50" stroke="#1e1e1e" stroke-width="1.2"/>
<g transform="translate(47.90,597.04) scale(0.9259,1)"><text x="0" y="0" font-size="8.10" text-anchor="end" fill="#1a1a1a" stroke="#1a1a1a" stroke-width="0.15" >0</text></g>
<line x1="54.40" y1="599.50" x2="54.40" y2="602.60" stroke="#1e1e1e" stroke-width="1.2"/>
<g transform="translate(54.40,611.10) scale(0.9259,1)"><text x="0" y="0" font-size="7.99" text-anchor="middle" fill="#1a1a1a" stroke="#1a1a1a" stroke-width="0.15" >0</text></g>
<line x1="96.60" y1="599.50" x2="96.60" y2="602.60" stroke="#1e1e1e" stroke-width="1.2"/>
<g transform="translate(96.60,611.10) scale(0.9259,1)"><text x="0" y="0" font-size="7.99" text-anchor="middle" fill="#1a1a1a" stroke="#1a1a1a" stroke-width="0.15" >10</text></g>
<line x1="138.85" y1="599.50" x2="138.85" y2="602.60" stroke="#1e1e1e" stroke-width="1.2"/>
<g transform="translate(138.85,611.10) scale(0.9259,1)"><text x="0" y="0" font-size="7.99" text-anchor="middle" fill="#1a1a1a" stroke="#1a1a1a" stroke-width="0.15" >20</text></g>
<line x1="181.10" y1="599.50" x2="181.10" y2="602.60" stroke="#1e1e1e" stroke-width="1.2"/>
<g transform="translate(181.10,611.10) scale(0.9259,1)"><text x="0" y="0" font-size="7.99" text-anchor="middle" fill="#1a1a1a" stroke="#1a1a1a" stroke-width="0.15" >30</text></g>
<g transform="translate(26.30,534.00) rotate(-90)"><text x="0" y="3.01" font-size="8.6" text-anchor="middle" fill="#1a1a1a" stroke="#1a1a1a" stroke-width="0.4" textLength="36.0" lengthAdjust="spacingAndGlyphs">Percent alive</text></g>
<text x="127.70" y="469.02" font-size="9.20" text-anchor="middle" fill="#111" stroke="#111" stroke-width="0.15" font-style="italic" >CH status in WM</text>
<text x="190.00" y="478.96" font-size="7.60" text-anchor="start" fill="#1a1a1a" stroke="#1a1a1a" stroke-width="0.15" >p = 0.65</text>
<text x="133.10" y="623.34" font-size="8.40" text-anchor="middle" fill="#1a1a1a" stroke="#1a1a1a" stroke-width="0.35" textLength="84.8" lengthAdjust="spacingAndGlyphs" >Time (in years from diagnosis)</text>
<path d="M54.30,478.10 L59.20,478.10 L59.20,478.10 L60.00,478.10 L60.00,479.20 L61.50,479.20 L61.50,480.40 L62.30,480.40 L62.30,482.10 L81.80,482.10 L81.80,485.10 L86.60,485.10 L86.60,488.50 L100.30,488.50 L100.30,492.40 L182.90,492.40 L182.90,492.40" fill="none" stroke="#fb0063" stroke-width="1.55" stroke-linejoin="miter"/>
<path d="M54.30,475.60 L60.80,475.60 L60.80,476.10 L64.60,476.10 L64.60,476.60 L70.00,476.60 L70.00,477.10 L73.00,477.10 L73.00,478.50 L77.00,478.50 L77.00,479.20 L86.20,479.20 L86.20,479.70 L89.20,479.70 L89.20,481.60 L95.40,481.60 L95.40,482.70 L96.20,482.70 L96.20,484.20 L107.70,484.20 L107.70,484.70 L108.50,484.70 L108.50,485.80 L112.30,485.80 L112.30,486.10 L113.00,486.10 L113.00,487.30 L114.50,487.30 L114.50,489.00 L116.00,489.00 L116.00,491.90 L119.20,491.90 L119.20,492.70 L120.00,492.70 L120.00,494.10 L132.40,494.10 L132.40,498.50 L159.20,498.50 L159.20,512.10 L204.60,512.10 L204.60,512.10" fill="none" stroke="#17548c" stroke-width="1.55" stroke-linejoin="miter"/>
<line x1="315.40" y1="472.00" x2="315.40" y2="602.90" stroke="#1e1e1e" stroke-width="1.25"/>
<line x1="314.80" y1="599.70" x2="472.80" y2="599.70" stroke="#1e1e1e" stroke-width="1.25"/>
<line x1="312.10" y1="476.25" x2="315.40" y2="476.25" stroke="#1e1e1e" stroke-width="1.2"/>
<g transform="translate(309.00,478.78) scale(0.9259,1)"><text x="0" y="0" font-size="8.10" text-anchor="end" fill="#1a1a1a" stroke="#1a1a1a" stroke-width="0.15" >100</text></g>
<line x1="312.10" y1="535.60" x2="315.40" y2="535.60" stroke="#1e1e1e" stroke-width="1.2"/>
<g transform="translate(309.00,538.14) scale(0.9259,1)"><text x="0" y="0" font-size="8.10" text-anchor="end" fill="#1a1a1a" stroke="#1a1a1a" stroke-width="0.15" >50</text></g>
<line x1="312.10" y1="595.00" x2="315.40" y2="595.00" stroke="#1e1e1e" stroke-width="1.2"/>
<g transform="translate(309.00,597.54) scale(0.9259,1)"><text x="0" y="0" font-size="8.10" text-anchor="end" fill="#1a1a1a" stroke="#1a1a1a" stroke-width="0.15" >0</text></g>
<line x1="315.40" y1="599.70" x2="315.40" y2="602.80" stroke="#1e1e1e" stroke-width="1.2"/>
<g transform="translate(315.40,611.10) scale(0.9259,1)"><text x="0" y="0" font-size="7.99" text-anchor="middle" fill="#1a1a1a" stroke="#1a1a1a" stroke-width="0.15" >0</text></g>
<line x1="357.60" y1="599.70" x2="357.60" y2="602.80" stroke="#1e1e1e" stroke-width="1.2"/>
<g transform="translate(357.60,611.10) scale(0.9259,1)"><text x="0" y="0" font-size="7.99" text-anchor="middle" fill="#1a1a1a" stroke="#1a1a1a" stroke-width="0.15" >10</text></g>
<line x1="399.85" y1="599.70" x2="399.85" y2="602.80" stroke="#1e1e1e" stroke-width="1.2"/>
<g transform="translate(399.85,611.10) scale(0.9259,1)"><text x="0" y="0" font-size="7.99" text-anchor="middle" fill="#1a1a1a" stroke="#1a1a1a" stroke-width="0.15" >20</text></g>
<line x1="442.10" y1="599.70" x2="442.10" y2="602.80" stroke="#1e1e1e" stroke-width="1.2"/>
<g transform="translate(442.10,611.10) scale(0.9259,1)"><text x="0" y="0" font-size="7.99" text-anchor="middle" fill="#1a1a1a" stroke="#1a1a1a" stroke-width="0.15" >30</text></g>
<g transform="translate(285.90,534.30) rotate(-90)"><text x="0" y="3.01" font-size="8.6" text-anchor="middle" fill="#1a1a1a" stroke="#1a1a1a" stroke-width="0.4" textLength="98" lengthAdjust="spacingAndGlyphs">Percent alive and progression-free</text></g>
<text x="388.60" y="469.02" font-size="9.20" text-anchor="middle" fill="#111" stroke="#111" stroke-width="0.15" font-style="italic" >CH status in WM</text>
<text x="450.50" y="479.16" font-size="7.60" text-anchor="start" fill="#1a1a1a" stroke="#1a1a1a" stroke-width="0.15" >p = 0.25</text>
<text x="393.30" y="622.94" font-size="8.40" text-anchor="middle" fill="#1a1a1a" stroke="#1a1a1a" stroke-width="0.35" textLength="87.5" lengthAdjust="spacingAndGlyphs" >Time (in years from diagnosis)</text>
<path d="M315.50,478.50 L316.20,478.50 L316.20,484.00 L316.90,484.00 L316.90,490.00 L317.70,490.00 L317.70,491.50 L320.00,491.50 L320.00,493.00 L321.50,493.00 L321.50,493.80 L322.20,493.80 L322.20,496.50 L322.70,496.50 L322.70,500.50 L323.80,500.50 L323.80,501.90 L329.50,501.90 L329.50,503.50 L330.80,503.50 L330.80,505.40 L332.30,505.40 L332.30,506.20 L333.10,506.20 L333.10,507.30 L334.20,507.30 L334.20,510.40 L335.00,510.40 L335.00,513.50 L336.50,513.50 L336.50,515.00 L338.50,515.00 L338.50,516.50 L340.00,516.50 L340.00,517.30 L341.20,517.30 L341.20,518.50 L342.70,518.50 L342.70,518.80 L343.80,518.80 L343.80,520.80 L347.70,520.80 L347.70,523.50 L348.80,523.50 L348.80,527.30 L357.30,527.30 L357.30,528.80 L358.80,528.80 L358.80,530.40 L360.40,530.40 L360.40,531.90 L361.20,531.90 L361.20,534.20 L361.50,534.20 L361.50,536.90 L362.30,536.90 L362.30,537.00 L365.40,537.00 L365.40,537.70 L366.90,537.70 L366.90,540.80 L371.50,540.80 L371.50,540.80 L372.30,540.80 L372.30,544.60 L378.50,544.60 L378.50,544.60 L379.30,544.60 L379.30,551.00 L380.00,551.00 L380.00,557.70 L382.30,557.70 L382.30,560.00 L383.10,560.00 L383.10,563.10 L395.40,563.10 L395.40,563.10 L396.20,563.10 L396.20,571.00 L413.80,571.00 L413.80,571.20 L414.60,571.20 L414.60,575.30 L443.70,575.30 L443.70,575.30" fill="none" stroke="#fb0063" stroke-width="1.55" stroke-linejoin="miter"/>
<path d="M315.50,476.40 L316.20,476.40 L316.20,477.00 L316.50,477.00 L316.50,485.40 L317.70,485.40 L317.70,487.70 L319.20,487.70 L319.20,490.80 L320.80,490.80 L320.80,493.10 L321.90,493.10 L321.90,496.20 L322.70,496.20 L322.70,500.80 L324.20,500.80 L324.20,503.10 L325.80,503.10 L325.80,505.40 L327.50,505.40 L327.50,507.90 L329.20,507.90 L329.20,508.80 L330.80,508.80 L330.80,511.20 L332.30,511.20 L332.30,513.10 L333.80,513.10 L333.80,514.60 L335.00,514.60 L335.00,516.20 L336.50,516.20 L336.50,517.30 L338.50,517.30 L338.50,518.50 L339.60,518.50 L339.60,520.40 L341.20,520.40 L341.20,521.50 L343.50,521.50 L343.50,523.50 L345.00,523.50 L345.00,525.40 L346.50,525.40 L346.50,527.30 L348.10,527.30 L348.10,529.60 L349.60,529.60 L349.60,531.20 L351.20,531.20 L351.20,532.70 L352.70,532.70 L352.70,534.20 L354.20,534.20 L354.20,537.00 L356.20,537.00 L356.20,540.00 L358.50,540.00 L358.50,542.70 L360.80,542.70 L360.80,545.40 L363.10,545.40 L363.10,546.90 L364.50,546.90 L364.50,549.00 L366.20,549.00 L366.20,551.50 L367.70,551.50 L367.70,554.00 L369.20,554.00 L369.20,556.90 L371.50,556.90 L371.50,559.20 L373.00,559.20 L373.00,560.50 L374.60,560.50 L374.60,561.50 L376.20,561.50 L376.20,563.10 L381.50,563.10 L381.50,563.10 L383.00,563.10 L383.00,564.50 L384.60,564.50 L384.60,566.20 L386.20,566.20 L386.20,568.50 L390.00,568.50 L390.00,569.20 L391.50,569.20 L391.50,570.30 L394.60,570.30 L394.60,570.30 L396.20,570.30 L396.20,571.80 L397.50,571.80 L397.50,572.80 L399.20,572.80 L399.20,573.80 L403.80,573.80 L403.80,574.60 L405.00,574.60 L405.00,576.50 L406.20,576.50 L406.20,578.50 L408.50,578.50 L408.50,579.50 L410.50,579.50 L410.50,580.50 L412.30,580.50 L412.30,581.50 L419.20,581.50 L419.20,582.00 L420.30,582.00 L420.30,584.40 L460.40,584.40 L460.40,589.80 L465.20,589.80 L465.20,589.80" fill="none" stroke="#17548c" stroke-width="1.55" stroke-linejoin="miter"/>
<text x="25.80" y="630.61" font-size="6.60" text-anchor="start" fill="#1a1a1a" stroke="#1a1a1a" stroke-width="0.15" >No. at risk</text>
<text x="34.90" y="644.75" font-size="7.00" text-anchor="end" fill="#1a1a1a" stroke="#1a1a1a" stroke-width="0.15" >Yes</text>
<text x="34.90" y="655.25" font-size="7.00" text-anchor="end" fill="#1a1a1a" stroke="#1a1a1a" stroke-width="0.15" >No</text>
<line x1="38.10" y1="642.30" x2="46.60" y2="642.30" stroke="#fb0063" stroke-width="1.4"/>
<line x1="38.10" y1="652.80" x2="46.60" y2="652.80" stroke="#17548c" stroke-width="1.4"/>
<text x="54.40" y="644.75" font-size="7.00" text-anchor="middle" fill="#1a1a1a" stroke="#1a1a1a" stroke-width="0.15" >61</text>
<text x="54.40" y="655.25" font-size="7.00" text-anchor="middle" fill="#1a1a1a" stroke="#1a1a1a" stroke-width="0.15" >379</text>
<text x="96.60" y="644.75" font-size="7.00" text-anchor="middle" fill="#1a1a1a" stroke="#1a1a1a" stroke-width="0.15" >27</text>
<text x="96.60" y="655.25" font-size="7.00" text-anchor="middle" fill="#1a1a1a" stroke="#1a1a1a" stroke-width="0.15" >105</text>
<text x="138.85" y="644.75" font-size="7.00" text-anchor="middle" fill="#1a1a1a" stroke="#1a1a1a" stroke-width="0.15" >7</text>
<text x="138.85" y="655.25" font-size="7.00" text-anchor="middle" fill="#1a1a1a" stroke="#1a1a1a" stroke-width="0.15" >20</text>
<text x="181.10" y="644.75" font-size="7.00" text-anchor="middle" fill="#1a1a1a" stroke="#1a1a1a" stroke-width="0.15" >1</text>
<text x="181.10" y="655.25" font-size="7.00" text-anchor="middle" fill="#1a1a1a" stroke="#1a1a1a" stroke-width="0.15" >2</text>
<text x="285.10" y="630.61" font-size="6.60" text-anchor="start" fill="#1a1a1a" stroke="#1a1a1a" stroke-width="0.15" >No. at risk</text>
<text x="296.20" y="644.75" font-size="7.00" text-anchor="end" fill="#1a1a1a" stroke="#1a1a1a" stroke-width="0.15" >Yes</text>
<text x="296.20" y="655.25" font-size="7.00" text-anchor="end" fill="#1a1a1a" stroke="#1a1a1a" stroke-width="0.15" >No</text>
<line x1="300.00" y1="642.30" x2="308.50" y2="642.30" stroke="#fb0063" stroke-width="1.4"/>
<line x1="300.00" y1="652.80" x2="308.50" y2="652.80" stroke="#17548c" stroke-width="1.4"/>
<text x="315.40" y="644.75" font-size="7.00" text-anchor="middle" fill="#1a1a1a" stroke="#1a1a1a" stroke-width="0.15" >61</text>
<text x="315.40" y="655.25" font-size="7.00" text-anchor="middle" fill="#1a1a1a" stroke="#1a1a1a" stroke-width="0.15" >379</text>
<text x="357.60" y="644.75" font-size="7.00" text-anchor="middle" fill="#1a1a1a" stroke="#1a1a1a" stroke-width="0.15" >26</text>
<text x="357.60" y="655.25" font-size="7.00" text-anchor="middle" fill="#1a1a1a" stroke="#1a1a1a" stroke-width="0.15" >84</text>
<text x="399.85" y="644.75" font-size="7.00" text-anchor="middle" fill="#1a1a1a" stroke="#1a1a1a" stroke-width="0.15" >6</text>
<text x="399.85" y="655.25" font-size="7.00" text-anchor="middle" fill="#1a1a1a" stroke="#1a1a1a" stroke-width="0.15" >14</text>
<text x="442.10" y="644.75" font-size="7.00" text-anchor="middle" fill="#1a1a1a" stroke="#1a1a1a" stroke-width="0.15" >1</text>
<text x="442.10" y="655.25" font-size="7.00" text-anchor="middle" fill="#1a1a1a" stroke="#1a1a1a" stroke-width="0.15" >2</text>
<text x="486.50" y="630.65" font-size="7.00" text-anchor="middle" fill="#1a1a1a" stroke="#1a1a1a" stroke-width="0.15" >Median (95% CI)</text>
<text x="509.00" y="644.38" font-size="6.80" text-anchor="end" fill="#1a1a1a" stroke="#1a1a1a" stroke-width="0.15" >11.1 (7.6, 15.5)</text>
<text x="509.00" y="654.88" font-size="6.80" text-anchor="end" fill="#1a1a1a" stroke="#1a1a1a" stroke-width="0.15" >9.1 (7.9, 10.3)</text>
</svg>
<div id="bd"></div>
</div></body></html>
